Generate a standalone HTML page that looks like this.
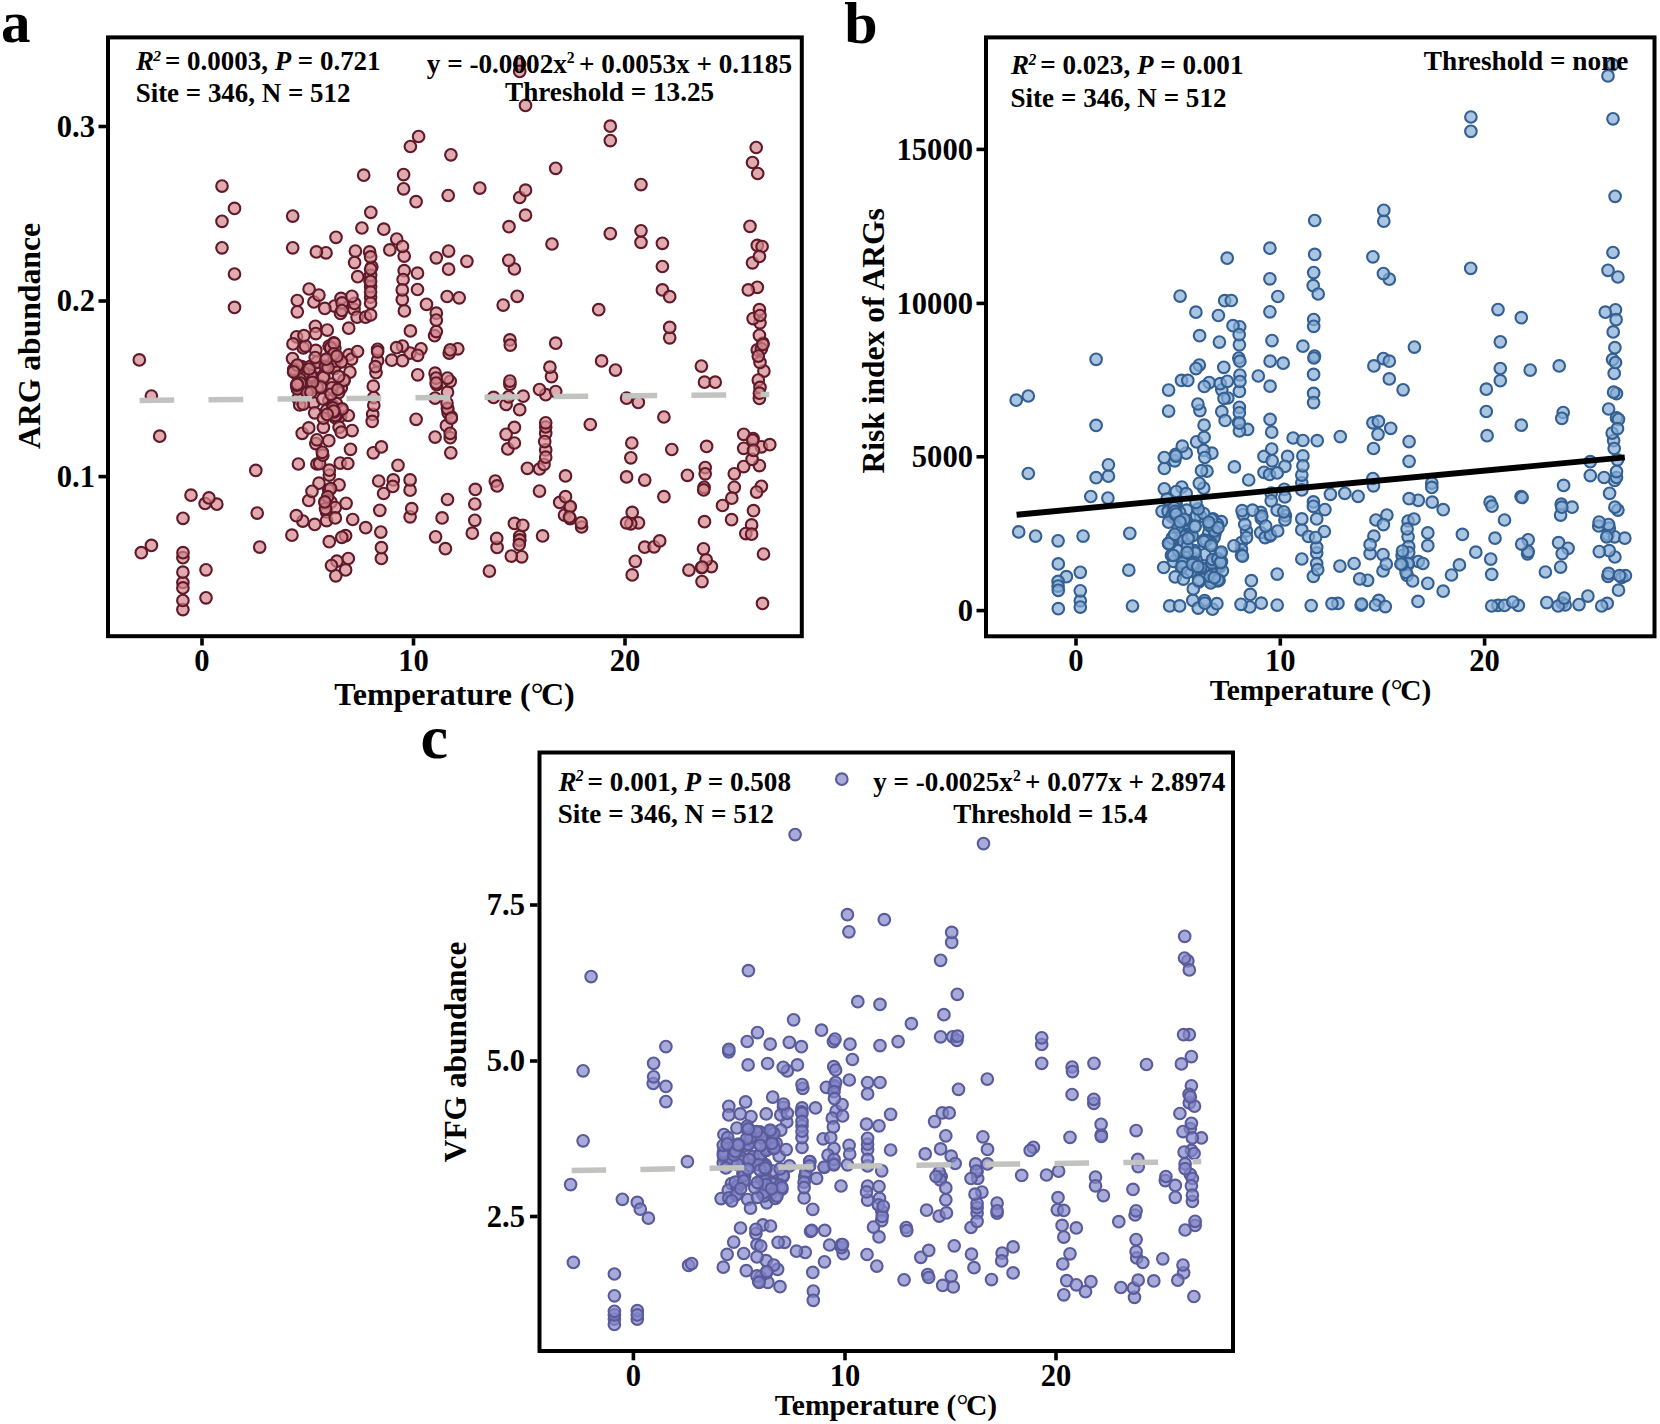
<!DOCTYPE html>
<html lang="en"><head><meta charset="utf-8"><title>Temperature relationships</title>
<style>html,body{margin:0;padding:0;background:#fff}svg{display:block}</style></head><body>
<svg width="1660" height="1424" viewBox="0 0 1660 1424" font-family="'Liberation Serif', 'DejaVu Serif', serif" font-weight="bold" fill="#000">
<rect width="1660" height="1424" fill="#fff"/>
<g fill="#d3868b" fill-opacity="0.7" stroke="#5f1928" stroke-width="2.1">
<circle cx="762.5" cy="603.4" r="5.8"/><circle cx="340.6" cy="416.2" r="5.8"/><circle cx="319.0" cy="483.2" r="5.8"/><circle cx="763.9" cy="371.1" r="5.8"/><circle cx="329.1" cy="346.1" r="5.8"/><circle cx="311.1" cy="374.2" r="5.8"/><circle cx="310.8" cy="376.2" r="5.8"/><circle cx="303.3" cy="347.9" r="5.8"/><circle cx="626.6" cy="398.2" r="5.8"/><circle cx="706.6" cy="446.4" r="5.8"/><circle cx="638.3" cy="402.4" r="5.8"/><circle cx="316.9" cy="464.0" r="5.8"/><circle cx="514.4" cy="523.4" r="5.8"/><circle cx="704.5" cy="382.2" r="5.8"/><circle cx="509.9" cy="339.9" r="5.8"/><circle cx="222.0" cy="221.3" r="5.8"/><circle cx="337.6" cy="358.4" r="5.8"/><circle cx="326.6" cy="366.1" r="5.8"/><circle cx="370.0" cy="280.6" r="5.8"/><circle cx="354.0" cy="309.3" r="5.8"/><circle cx="410.1" cy="516.8" r="5.8"/><circle cx="734.3" cy="487.3" r="5.8"/><circle cx="349.9" cy="372.1" r="5.8"/><circle cx="448.1" cy="412.8" r="5.8"/><circle cx="669.7" cy="337.8" r="5.8"/><circle cx="334.8" cy="348.3" r="5.8"/><circle cx="300.2" cy="380.0" r="5.8"/><circle cx="404.2" cy="270.7" r="5.8"/><circle cx="404.2" cy="256.1" r="5.8"/><circle cx="222.0" cy="186.1" r="5.8"/><circle cx="552.0" cy="244.0" r="5.8"/><circle cx="448.6" cy="251.1" r="5.8"/><circle cx="300.6" cy="380.0" r="5.8"/><circle cx="365.7" cy="527.7" r="5.8"/><circle cx="519.7" cy="536.3" r="5.8"/><circle cx="257.2" cy="513.1" r="5.8"/><circle cx="493.6" cy="397.4" r="5.8"/><circle cx="750.0" cy="226.3" r="5.8"/><circle cx="753.1" cy="438.5" r="5.8"/><circle cx="328.9" cy="400.5" r="5.8"/><circle cx="434.6" cy="335.7" r="5.8"/><circle cx="345.6" cy="535.7" r="5.8"/><circle cx="332.9" cy="405.5" r="5.8"/><circle cx="760.0" cy="322.8" r="5.8"/><circle cx="323.4" cy="427.3" r="5.8"/><circle cx="545.7" cy="394.7" r="5.8"/><circle cx="333.7" cy="342.8" r="5.8"/><circle cx="315.8" cy="350.4" r="5.8"/><circle cx="610.3" cy="140.6" r="5.8"/><circle cx="313.9" cy="302.0" r="5.8"/><circle cx="564.5" cy="515.1" r="5.8"/><circle cx="448.6" cy="269.2" r="5.8"/><circle cx="298.4" cy="464.0" r="5.8"/><circle cx="315.4" cy="326.3" r="5.8"/><circle cx="298.6" cy="380.7" r="5.8"/><circle cx="348.9" cy="354.8" r="5.8"/><circle cx="753.1" cy="318.6" r="5.8"/><circle cx="762.9" cy="343.2" r="5.8"/><circle cx="340.2" cy="463.1" r="5.8"/><circle cx="334.6" cy="306.1" r="5.8"/><circle cx="216.8" cy="504.2" r="5.8"/><circle cx="752.5" cy="162.5" r="5.8"/><circle cx="391.7" cy="360.2" r="5.8"/><circle cx="450.9" cy="154.8" r="5.8"/><circle cx="335.3" cy="417.7" r="5.8"/><circle cx="551.5" cy="376.6" r="5.8"/><circle cx="497.1" cy="547.4" r="5.8"/><circle cx="259.7" cy="547.1" r="5.8"/><circle cx="704.1" cy="487.3" r="5.8"/><circle cx="759.4" cy="398.4" r="5.8"/><circle cx="598.7" cy="309.7" r="5.8"/><circle cx="255.8" cy="470.4" r="5.8"/><circle cx="341.8" cy="410.6" r="5.8"/><circle cx="329.3" cy="475.1" r="5.8"/><circle cx="352.1" cy="430.6" r="5.8"/><circle cx="341.3" cy="387.8" r="5.8"/><circle cx="369.6" cy="251.9" r="5.8"/><circle cx="328.8" cy="440.7" r="5.8"/><circle cx="182.9" cy="557.7" r="5.8"/><circle cx="297.3" cy="300.5" r="5.8"/><circle cx="466.9" cy="261.3" r="5.8"/><circle cx="569.7" cy="507.0" r="5.8"/><circle cx="313.6" cy="403.0" r="5.8"/><circle cx="309.1" cy="289.0" r="5.8"/><circle cx="410.1" cy="353.1" r="5.8"/><circle cx="402.3" cy="299.7" r="5.8"/><circle cx="306.0" cy="384.6" r="5.8"/><circle cx="446.4" cy="425.7" r="5.8"/><circle cx="519.6" cy="540.6" r="5.8"/><circle cx="305.5" cy="385.4" r="5.8"/><circle cx="301.7" cy="366.7" r="5.8"/><circle cx="348.3" cy="415.5" r="5.8"/><circle cx="334.2" cy="367.8" r="5.8"/><circle cx="459.2" cy="297.8" r="5.8"/><circle cx="383.6" cy="493.5" r="5.8"/><circle cx="296.6" cy="336.8" r="5.8"/><circle cx="743.7" cy="466.6" r="5.8"/><circle cx="379.8" cy="510.3" r="5.8"/><circle cx="757.3" cy="245.4" r="5.8"/><circle cx="704.5" cy="521.7" r="5.8"/><circle cx="296.8" cy="385.2" r="5.8"/><circle cx="344.0" cy="380.6" r="5.8"/><circle cx="545.7" cy="433.3" r="5.8"/><circle cx="521.7" cy="556.8" r="5.8"/><circle cx="315.2" cy="367.8" r="5.8"/><circle cx="753.5" cy="510.7" r="5.8"/><circle cx="590.3" cy="424.5" r="5.8"/><circle cx="347.8" cy="463.5" r="5.8"/><circle cx="357.1" cy="317.2" r="5.8"/><circle cx="159.7" cy="436.2" r="5.8"/><circle cx="410.4" cy="330.9" r="5.8"/><circle cx="703.5" cy="548.8" r="5.8"/><circle cx="381.4" cy="558.5" r="5.8"/><circle cx="631.8" cy="443.0" r="5.8"/><circle cx="403.6" cy="188.8" r="5.8"/><circle cx="475.3" cy="489.4" r="5.8"/><circle cx="615.5" cy="370.1" r="5.8"/><circle cx="711.4" cy="566.6" r="5.8"/><circle cx="325.7" cy="360.3" r="5.8"/><circle cx="402.5" cy="346.1" r="5.8"/><circle cx="141.3" cy="552.7" r="5.8"/><circle cx="329.3" cy="541.7" r="5.8"/><circle cx="312.1" cy="387.9" r="5.8"/><circle cx="519.7" cy="197.5" r="5.8"/><circle cx="325.5" cy="503.3" r="5.8"/><circle cx="297.2" cy="386.7" r="5.8"/><circle cx="319.6" cy="463.7" r="5.8"/><circle cx="182.9" cy="582.5" r="5.8"/><circle cx="292.5" cy="358.6" r="5.8"/><circle cx="722.5" cy="505.5" r="5.8"/><circle cx="331.0" cy="502.2" r="5.8"/><circle cx="310.0" cy="366.6" r="5.8"/><circle cx="234.5" cy="274.0" r="5.8"/><circle cx="302.8" cy="521.1" r="5.8"/><circle cx="182.9" cy="609.6" r="5.8"/><circle cx="539.5" cy="469.0" r="5.8"/><circle cx="760.0" cy="362.4" r="5.8"/><circle cx="751.6" cy="524.9" r="5.8"/><circle cx="297.9" cy="398.7" r="5.8"/><circle cx="351.6" cy="359.1" r="5.8"/><circle cx="519.7" cy="539.9" r="5.8"/><circle cx="341.5" cy="361.7" r="5.8"/><circle cx="632.2" cy="512.4" r="5.8"/><circle cx="404.4" cy="310.9" r="5.8"/><circle cx="715.2" cy="382.2" r="5.8"/><circle cx="761.4" cy="446.8" r="5.8"/><circle cx="601.6" cy="360.9" r="5.8"/><circle cx="302.2" cy="433.3" r="5.8"/><circle cx="339.1" cy="484.8" r="5.8"/><circle cx="373.8" cy="397.6" r="5.8"/><circle cx="191.0" cy="495.2" r="5.8"/><circle cx="334.6" cy="411.7" r="5.8"/><circle cx="503.2" cy="305.1" r="5.8"/><circle cx="743.7" cy="448.3" r="5.8"/><circle cx="357.7" cy="276.7" r="5.8"/><circle cx="333.1" cy="407.3" r="5.8"/><circle cx="435.1" cy="373.2" r="5.8"/><circle cx="398.0" cy="465.3" r="5.8"/><circle cx="339.1" cy="427.3" r="5.8"/><circle cx="743.7" cy="434.3" r="5.8"/><circle cx="759.4" cy="465.6" r="5.8"/><circle cx="638.5" cy="522.8" r="5.8"/><circle cx="370.6" cy="297.2" r="5.8"/><circle cx="641.0" cy="184.6" r="5.8"/><circle cx="370.6" cy="286.7" r="5.8"/><circle cx="372.7" cy="414.4" r="5.8"/><circle cx="372.2" cy="421.4" r="5.8"/><circle cx="326.6" cy="511.9" r="5.8"/><circle cx="511.3" cy="556.1" r="5.8"/><circle cx="731.8" cy="498.2" r="5.8"/><circle cx="393.3" cy="479.9" r="5.8"/><circle cx="662.4" cy="243.3" r="5.8"/><circle cx="338.6" cy="392.7" r="5.8"/><circle cx="371.8" cy="266.9" r="5.8"/><circle cx="365.6" cy="317.2" r="5.8"/><circle cx="706.2" cy="559.9" r="5.8"/><circle cx="331.7" cy="384.0" r="5.8"/><circle cx="479.8" cy="188.1" r="5.8"/><circle cx="326.6" cy="410.6" r="5.8"/><circle cx="495.3" cy="481.1" r="5.8"/><circle cx="370.6" cy="256.9" r="5.8"/><circle cx="206.0" cy="569.8" r="5.8"/><circle cx="322.7" cy="399.0" r="5.8"/><circle cx="436.3" cy="313.2" r="5.8"/><circle cx="293.0" cy="343.9" r="5.8"/><circle cx="205.1" cy="503.5" r="5.8"/><circle cx="323.8" cy="376.3" r="5.8"/><circle cx="330.7" cy="348.8" r="5.8"/><circle cx="701.4" cy="366.1" r="5.8"/><circle cx="297.3" cy="311.8" r="5.8"/><circle cx="507.8" cy="448.9" r="5.8"/><circle cx="308.7" cy="500.5" r="5.8"/><circle cx="644.7" cy="480.1" r="5.8"/><circle cx="545.7" cy="449.9" r="5.8"/><circle cx="731.6" cy="519.7" r="5.8"/><circle cx="370.6" cy="275.3" r="5.8"/><circle cx="509.9" cy="384.3" r="5.8"/><circle cx="757.3" cy="349.9" r="5.8"/><circle cx="761.4" cy="348.8" r="5.8"/><circle cx="702.0" cy="581.6" r="5.8"/><circle cx="341.0" cy="298.4" r="5.8"/><circle cx="389.8" cy="249.9" r="5.8"/><circle cx="523.2" cy="396.2" r="5.8"/><circle cx="300.5" cy="386.3" r="5.8"/><circle cx="447.5" cy="499.5" r="5.8"/><circle cx="662.4" cy="289.9" r="5.8"/><circle cx="320.5" cy="385.8" r="5.8"/><circle cx="662.4" cy="266.5" r="5.8"/><circle cx="310.9" cy="375.4" r="5.8"/><circle cx="644.7" cy="547.2" r="5.8"/><circle cx="497.1" cy="485.9" r="5.8"/><circle cx="745.8" cy="533.6" r="5.8"/><circle cx="336.2" cy="403.4" r="5.8"/><circle cx="335.3" cy="507.6" r="5.8"/><circle cx="510.3" cy="345.1" r="5.8"/><circle cx="303.6" cy="372.8" r="5.8"/><circle cx="336.9" cy="561.2" r="5.8"/><circle cx="761.4" cy="486.3" r="5.8"/><circle cx="759.4" cy="309.7" r="5.8"/><circle cx="450.2" cy="437.7" r="5.8"/><circle cx="326.0" cy="252.8" r="5.8"/><circle cx="323.4" cy="377.5" r="5.8"/><circle cx="354.6" cy="262.6" r="5.8"/><circle cx="435.1" cy="398.1" r="5.8"/><circle cx="346.1" cy="503.3" r="5.8"/><circle cx="514.4" cy="427.4" r="5.8"/><circle cx="630.8" cy="457.8" r="5.8"/><circle cx="332.0" cy="387.8" r="5.8"/><circle cx="334.5" cy="368.4" r="5.8"/><circle cx="451.3" cy="416.9" r="5.8"/><circle cx="342.1" cy="408.9" r="5.8"/><circle cx="334.2" cy="354.8" r="5.8"/><circle cx="299.7" cy="405.0" r="5.8"/><circle cx="234.5" cy="208.4" r="5.8"/><circle cx="654.1" cy="546.8" r="5.8"/><circle cx="436.3" cy="257.8" r="5.8"/><circle cx="417.7" cy="374.8" r="5.8"/><circle cx="396.6" cy="347.7" r="5.8"/><circle cx="354.6" cy="303.4" r="5.8"/><circle cx="296.3" cy="373.7" r="5.8"/><circle cx="303.3" cy="404.1" r="5.8"/><circle cx="565.5" cy="475.9" r="5.8"/><circle cx="759.4" cy="335.3" r="5.8"/><circle cx="663.9" cy="417.0" r="5.8"/><circle cx="752.7" cy="440.3" r="5.8"/><circle cx="352.7" cy="519.5" r="5.8"/><circle cx="151.4" cy="396.0" r="5.8"/><circle cx="370.6" cy="303.0" r="5.8"/><circle cx="373.8" cy="405.2" r="5.8"/><circle cx="509.9" cy="381.1" r="5.8"/><circle cx="341.8" cy="537.3" r="5.8"/><circle cx="326.6" cy="520.6" r="5.8"/><circle cx="610.3" cy="126.2" r="5.8"/><circle cx="527.4" cy="468.3" r="5.8"/><circle cx="517.2" cy="296.3" r="5.8"/><circle cx="447.5" cy="408.4" r="5.8"/><circle cx="544.0" cy="464.5" r="5.8"/><circle cx="183.0" cy="518.3" r="5.8"/><circle cx="314.7" cy="412.8" r="5.8"/><circle cx="435.6" cy="536.8" r="5.8"/><circle cx="457.8" cy="348.8" r="5.8"/><circle cx="687.4" cy="475.3" r="5.8"/><circle cx="570.3" cy="506.5" r="5.8"/><circle cx="757.3" cy="287.3" r="5.8"/><circle cx="139.3" cy="359.9" r="5.8"/><circle cx="206.0" cy="597.8" r="5.8"/><circle cx="436.3" cy="331.6" r="5.8"/><circle cx="315.8" cy="443.6" r="5.8"/><circle cx="183.0" cy="552.7" r="5.8"/><circle cx="361.9" cy="228.0" r="5.8"/><circle cx="291.9" cy="535.2" r="5.8"/><circle cx="630.8" cy="523.8" r="5.8"/><circle cx="402.5" cy="360.7" r="5.8"/><circle cx="416.1" cy="201.7" r="5.8"/><circle cx="555.7" cy="168.3" r="5.8"/><circle cx="333.9" cy="361.4" r="5.8"/><circle cx="335.3" cy="517.9" r="5.8"/><circle cx="322.8" cy="455.2" r="5.8"/><circle cx="762.9" cy="344.4" r="5.8"/><circle cx="396.7" cy="239.0" r="5.8"/><circle cx="325.5" cy="508.7" r="5.8"/><circle cx="641.0" cy="242.3" r="5.8"/><circle cx="322.3" cy="452.3" r="5.8"/><circle cx="418.6" cy="136.5" r="5.8"/><circle cx="331.0" cy="394.3" r="5.8"/><circle cx="663.9" cy="496.7" r="5.8"/><circle cx="307.9" cy="390.0" r="5.8"/><circle cx="734.3" cy="473.8" r="5.8"/><circle cx="555.7" cy="391.6" r="5.8"/><circle cx="328.8" cy="490.2" r="5.8"/><circle cx="344.0" cy="380.2" r="5.8"/><circle cx="570.1" cy="518.6" r="5.8"/><circle cx="370.6" cy="314.9" r="5.8"/><circle cx="351.9" cy="296.3" r="5.8"/><circle cx="376.0" cy="372.7" r="5.8"/><circle cx="316.7" cy="362.3" r="5.8"/><circle cx="182.9" cy="600.5" r="5.8"/><circle cx="447.7" cy="408.8" r="5.8"/><circle cx="641.0" cy="230.8" r="5.8"/><circle cx="758.3" cy="380.1" r="5.8"/><circle cx="760.0" cy="315.5" r="5.8"/><circle cx="378.7" cy="481.0" r="5.8"/><circle cx="222.0" cy="247.8" r="5.8"/><circle cx="377.6" cy="349.3" r="5.8"/><circle cx="559.7" cy="502.4" r="5.8"/><circle cx="474.8" cy="520.3" r="5.8"/><circle cx="436.7" cy="384.7" r="5.8"/><circle cx="330.6" cy="488.6" r="5.8"/><circle cx="442.1" cy="517.9" r="5.8"/><circle cx="330.7" cy="347.7" r="5.8"/><circle cx="449.2" cy="353.1" r="5.8"/><circle cx="327.7" cy="496.7" r="5.8"/><circle cx="208.9" cy="497.9" r="5.8"/><circle cx="610.3" cy="233.6" r="5.8"/><circle cx="474.8" cy="504.0" r="5.8"/><circle cx="752.5" cy="262.8" r="5.8"/><circle cx="450.8" cy="452.8" r="5.8"/><circle cx="436.1" cy="378.1" r="5.8"/><circle cx="315.2" cy="357.5" r="5.8"/><circle cx="489.4" cy="571.1" r="5.8"/><circle cx="383.8" cy="229.2" r="5.8"/><circle cx="669.7" cy="296.7" r="5.8"/><circle cx="581.6" cy="527.0" r="5.8"/><circle cx="307.2" cy="388.2" r="5.8"/><circle cx="305.5" cy="346.1" r="5.8"/><circle cx="296.8" cy="370.7" r="5.8"/><circle cx="525.5" cy="105.4" r="5.8"/><circle cx="542.6" cy="535.9" r="5.8"/><circle cx="659.7" cy="540.9" r="5.8"/><circle cx="334.2" cy="343.4" r="5.8"/><circle cx="297.4" cy="388.9" r="5.8"/><circle cx="299.9" cy="379.1" r="5.8"/><circle cx="669.7" cy="327.4" r="5.8"/><circle cx="701.6" cy="567.6" r="5.8"/><circle cx="426.5" cy="304.3" r="5.8"/><circle cx="348.3" cy="558.5" r="5.8"/><circle cx="340.5" cy="313.5" r="5.8"/><circle cx="544.7" cy="441.6" r="5.8"/><circle cx="355.4" cy="251.1" r="5.8"/><circle cx="315.8" cy="333.6" r="5.8"/><circle cx="341.3" cy="361.8" r="5.8"/><circle cx="373.3" cy="386.2" r="5.8"/><circle cx="403.6" cy="174.6" r="5.8"/><circle cx="357.5" cy="351.5" r="5.8"/><circle cx="335.8" cy="575.8" r="5.8"/><circle cx="635.3" cy="561.3" r="5.8"/><circle cx="293.8" cy="370.4" r="5.8"/><circle cx="514.4" cy="443.0" r="5.8"/><circle cx="410.4" cy="146.5" r="5.8"/><circle cx="758.3" cy="356.1" r="5.8"/><circle cx="671.8" cy="449.5" r="5.8"/><circle cx="317.2" cy="387.4" r="5.8"/><circle cx="373.3" cy="452.8" r="5.8"/><circle cx="760.0" cy="387.4" r="5.8"/><circle cx="447.5" cy="392.2" r="5.8"/><circle cx="307.2" cy="392.8" r="5.8"/><circle cx="336.0" cy="237.3" r="5.8"/><circle cx="297.7" cy="365.6" r="5.8"/><circle cx="450.2" cy="381.3" r="5.8"/><circle cx="370.8" cy="212.3" r="5.8"/><circle cx="403.1" cy="279.5" r="5.8"/><circle cx="308.7" cy="427.9" r="5.8"/><circle cx="345.6" cy="569.9" r="5.8"/><circle cx="342.1" cy="302.9" r="5.8"/><circle cx="451.3" cy="418.2" r="5.8"/><circle cx="705.2" cy="467.6" r="5.8"/><circle cx="525.5" cy="190.2" r="5.8"/><circle cx="514.4" cy="269.0" r="5.8"/><circle cx="545.7" cy="427.0" r="5.8"/><circle cx="325.4" cy="366.4" r="5.8"/><circle cx="296.3" cy="515.7" r="5.8"/><circle cx="519.2" cy="544.7" r="5.8"/><circle cx="436.1" cy="383.0" r="5.8"/><circle cx="519.7" cy="64.1" r="5.8"/><circle cx="331.5" cy="565.5" r="5.8"/><circle cx="296.6" cy="385.1" r="5.8"/><circle cx="309.2" cy="369.0" r="5.8"/><circle cx="447.5" cy="378.1" r="5.8"/><circle cx="370.6" cy="269.0" r="5.8"/><circle cx="565.5" cy="496.7" r="5.8"/><circle cx="402.5" cy="246.5" r="5.8"/><circle cx="350.5" cy="449.3" r="5.8"/><circle cx="300.3" cy="383.1" r="5.8"/><circle cx="348.7" cy="328.2" r="5.8"/><circle cx="327.3" cy="330.1" r="5.8"/><circle cx="421.0" cy="348.8" r="5.8"/><circle cx="416.1" cy="419.3" r="5.8"/><circle cx="324.8" cy="501.9" r="5.8"/><circle cx="450.2" cy="349.9" r="5.8"/><circle cx="410.1" cy="490.2" r="5.8"/><circle cx="417.7" cy="355.3" r="5.8"/><circle cx="377.6" cy="360.7" r="5.8"/><circle cx="496.7" cy="538.4" r="5.8"/><circle cx="380.8" cy="532.1" r="5.8"/><circle cx="545.7" cy="457.2" r="5.8"/><circle cx="377.6" cy="351.8" r="5.8"/><circle cx="297.3" cy="384.0" r="5.8"/><circle cx="752.1" cy="459.3" r="5.8"/><circle cx="411.7" cy="508.7" r="5.8"/><circle cx="341.3" cy="432.2" r="5.8"/><circle cx="338.6" cy="376.4" r="5.8"/><circle cx="293.7" cy="369.5" r="5.8"/><circle cx="381.4" cy="547.7" r="5.8"/><circle cx="320.6" cy="387.1" r="5.8"/><circle cx="435.1" cy="437.1" r="5.8"/><circle cx="472.3" cy="533.2" r="5.8"/><circle cx="151.4" cy="545.4" r="5.8"/><circle cx="332.8" cy="407.9" r="5.8"/><circle cx="375.4" cy="366.7" r="5.8"/><circle cx="506.1" cy="404.5" r="5.8"/><circle cx="626.6" cy="476.9" r="5.8"/><circle cx="303.9" cy="335.7" r="5.8"/><circle cx="323.4" cy="418.2" r="5.8"/><circle cx="335.2" cy="415.5" r="5.8"/><circle cx="234.5" cy="307.4" r="5.8"/><circle cx="312.5" cy="382.4" r="5.8"/><circle cx="757.7" cy="173.5" r="5.8"/><circle cx="753.5" cy="450.3" r="5.8"/><circle cx="519.7" cy="409.7" r="5.8"/><circle cx="632.2" cy="574.9" r="5.8"/><circle cx="525.5" cy="215.2" r="5.8"/><circle cx="324.8" cy="308.4" r="5.8"/><circle cx="703.7" cy="489.9" r="5.8"/><circle cx="297.3" cy="365.1" r="5.8"/><circle cx="363.7" cy="175.2" r="5.8"/><circle cx="756.2" cy="147.5" r="5.8"/><circle cx="447.1" cy="296.5" r="5.8"/><circle cx="539.5" cy="389.5" r="5.8"/><circle cx="447.0" cy="403.0" r="5.8"/><circle cx="569.4" cy="517.0" r="5.8"/><circle cx="762.1" cy="246.5" r="5.8"/><circle cx="751.6" cy="534.2" r="5.8"/><circle cx="508.8" cy="260.3" r="5.8"/><circle cx="417.5" cy="289.5" r="5.8"/><circle cx="759.4" cy="256.5" r="5.8"/><circle cx="334.0" cy="411.8" r="5.8"/><circle cx="182.9" cy="587.9" r="5.8"/><circle cx="445.4" cy="548.7" r="5.8"/><circle cx="182.9" cy="572.2" r="5.8"/><circle cx="555.7" cy="343.2" r="5.8"/><circle cx="539.5" cy="491.1" r="5.8"/><circle cx="522.8" cy="525.3" r="5.8"/><circle cx="312.0" cy="491.3" r="5.8"/><circle cx="316.9" cy="439.8" r="5.8"/><circle cx="581.1" cy="522.8" r="5.8"/><circle cx="702.2" cy="567.2" r="5.8"/><circle cx="310.9" cy="392.2" r="5.8"/><circle cx="341.9" cy="310.5" r="5.8"/><circle cx="506.1" cy="434.3" r="5.8"/><circle cx="318.9" cy="295.1" r="5.8"/><circle cx="402.3" cy="289.9" r="5.8"/><circle cx="417.5" cy="273.2" r="5.8"/><circle cx="508.6" cy="396.8" r="5.8"/><circle cx="292.7" cy="216.1" r="5.8"/><circle cx="549.9" cy="367.2" r="5.8"/><circle cx="392.8" cy="486.4" r="5.8"/><circle cx="410.1" cy="479.9" r="5.8"/><circle cx="769.8" cy="444.7" r="5.8"/><circle cx="545.7" cy="422.8" r="5.8"/><circle cx="292.7" cy="247.8" r="5.8"/><circle cx="759.4" cy="393.2" r="5.8"/><circle cx="509.0" cy="226.7" r="5.8"/><circle cx="333.9" cy="353.8" r="5.8"/><circle cx="448.2" cy="195.5" r="5.8"/><circle cx="688.9" cy="570.1" r="5.8"/><circle cx="314.7" cy="524.4" r="5.8"/><circle cx="328.1" cy="367.7" r="5.8"/><circle cx="326.2" cy="359.2" r="5.8"/><circle cx="370.6" cy="281.5" r="5.8"/><circle cx="297.2" cy="384.5" r="5.8"/><circle cx="519.7" cy="71.4" r="5.8"/><circle cx="705.2" cy="473.8" r="5.8"/><circle cx="370.6" cy="292.0" r="5.8"/><circle cx="381.4" cy="446.9" r="5.8"/><circle cx="450.2" cy="433.3" r="5.8"/><circle cx="293.6" cy="371.9" r="5.8"/><circle cx="763.5" cy="554.0" r="5.8"/><circle cx="436.3" cy="320.1" r="5.8"/><circle cx="756.6" cy="492.1" r="5.8"/><circle cx="333.6" cy="411.1" r="5.8"/><circle cx="336.9" cy="356.2" r="5.8"/><circle cx="337.8" cy="389.5" r="5.8"/><circle cx="327.1" cy="414.4" r="5.8"/><circle cx="316.4" cy="251.9" r="5.8"/><circle cx="626.6" cy="522.8" r="5.8"/><circle cx="329.3" cy="470.2" r="5.8"/><circle cx="748.3" cy="289.9" r="5.8"/>
</g>
<g fill="#86acd6" fill-opacity="0.7" stroke="#345f91" stroke-width="2.1">
<circle cx="1218.4" cy="315.5" r="5.8"/><circle cx="1313.2" cy="285.7" r="5.8"/><circle cx="1608.0" cy="576.3" r="5.8"/><circle cx="1215.1" cy="533.1" r="5.8"/><circle cx="1162.1" cy="511.3" r="5.8"/><circle cx="1181.1" cy="566.6" r="5.8"/><circle cx="1107.9" cy="498.1" r="5.8"/><circle cx="1213.0" cy="518.9" r="5.8"/><circle cx="1615.5" cy="309.8" r="5.8"/><circle cx="1546.8" cy="602.6" r="5.8"/><circle cx="1324.3" cy="531.5" r="5.8"/><circle cx="1164.3" cy="468.5" r="5.8"/><circle cx="1316.7" cy="552.9" r="5.8"/><circle cx="1293.1" cy="438.0" r="5.8"/><circle cx="1563.2" cy="412.5" r="5.8"/><circle cx="1214.1" cy="537.6" r="5.8"/><circle cx="1431.8" cy="483.1" r="5.8"/><circle cx="1608.0" cy="75.9" r="5.8"/><circle cx="1459.4" cy="564.9" r="5.8"/><circle cx="1545.4" cy="572.0" r="5.8"/><circle cx="1205.9" cy="568.6" r="5.8"/><circle cx="1418.3" cy="561.5" r="5.8"/><circle cx="1066.4" cy="576.7" r="5.8"/><circle cx="1217.4" cy="567.5" r="5.8"/><circle cx="1301.8" cy="482.8" r="5.8"/><circle cx="1378.8" cy="600.4" r="5.8"/><circle cx="1285.4" cy="515.7" r="5.8"/><circle cx="1058.3" cy="608.7" r="5.8"/><circle cx="1373.9" cy="536.2" r="5.8"/><circle cx="1587.9" cy="596.1" r="5.8"/><circle cx="1260.7" cy="532.6" r="5.8"/><circle cx="1432.2" cy="502.2" r="5.8"/><circle cx="1301.8" cy="529.9" r="5.8"/><circle cx="1182.8" cy="563.3" r="5.8"/><circle cx="1409.1" cy="441.6" r="5.8"/><circle cx="1373.5" cy="448.5" r="5.8"/><circle cx="1243.2" cy="514.6" r="5.8"/><circle cx="1108.4" cy="476.2" r="5.8"/><circle cx="1168.6" cy="411.1" r="5.8"/><circle cx="1313.4" cy="576.3" r="5.8"/><circle cx="1180.9" cy="536.4" r="5.8"/><circle cx="1390.7" cy="428.3" r="5.8"/><circle cx="1284.3" cy="489.3" r="5.8"/><circle cx="1339.9" cy="566.1" r="5.8"/><circle cx="1221.8" cy="389.8" r="5.8"/><circle cx="1375.5" cy="605.0" r="5.8"/><circle cx="1189.5" cy="535.8" r="5.8"/><circle cx="1219.7" cy="566.8" r="5.8"/><circle cx="1316.7" cy="563.7" r="5.8"/><circle cx="1277.2" cy="510.2" r="5.8"/><circle cx="1337.9" cy="603.4" r="5.8"/><circle cx="1621.8" cy="577.4" r="5.8"/><circle cx="1212.5" cy="561.0" r="5.8"/><circle cx="1614.9" cy="557.0" r="5.8"/><circle cx="1487.1" cy="435.7" r="5.8"/><circle cx="1212.5" cy="609.2" r="5.8"/><circle cx="1174.7" cy="460.8" r="5.8"/><circle cx="1301.8" cy="475.1" r="5.8"/><circle cx="1260.7" cy="512.4" r="5.8"/><circle cx="1193.3" cy="560.9" r="5.8"/><circle cx="1367.6" cy="580.3" r="5.8"/><circle cx="1608.6" cy="573.4" r="5.8"/><circle cx="1221.3" cy="521.7" r="5.8"/><circle cx="1613.6" cy="440.6" r="5.8"/><circle cx="1504.5" cy="520.0" r="5.8"/><circle cx="1490.1" cy="502.2" r="5.8"/><circle cx="1208.7" cy="533.2" r="5.8"/><circle cx="1562.2" cy="603.0" r="5.8"/><circle cx="1409.1" cy="461.3" r="5.8"/><circle cx="1180.1" cy="296.1" r="5.8"/><circle cx="1277.2" cy="574.1" r="5.8"/><circle cx="1190.8" cy="563.4" r="5.8"/><circle cx="1035.6" cy="536.1" r="5.8"/><circle cx="1176.1" cy="503.4" r="5.8"/><circle cx="1521.1" cy="496.7" r="5.8"/><circle cx="1198.3" cy="569.3" r="5.8"/><circle cx="1313.4" cy="501.9" r="5.8"/><circle cx="1389.3" cy="279.2" r="5.8"/><circle cx="1178.5" cy="523.9" r="5.8"/><circle cx="1261.2" cy="518.3" r="5.8"/><circle cx="1181.6" cy="526.9" r="5.8"/><circle cx="1199.9" cy="410.6" r="5.8"/><circle cx="1196.6" cy="441.8" r="5.8"/><circle cx="1313.6" cy="374.4" r="5.8"/><circle cx="1608.0" cy="534.8" r="5.8"/><circle cx="1108.4" cy="464.8" r="5.8"/><circle cx="1565.2" cy="605.0" r="5.8"/><circle cx="1209.2" cy="382.6" r="5.8"/><circle cx="1172.2" cy="516.9" r="5.8"/><circle cx="1614.2" cy="373.4" r="5.8"/><circle cx="1383.4" cy="358.6" r="5.8"/><circle cx="1408.2" cy="564.1" r="5.8"/><circle cx="1219.9" cy="565.0" r="5.8"/><circle cx="1269.9" cy="311.8" r="5.8"/><circle cx="1207.0" cy="471.2" r="5.8"/><circle cx="1211.4" cy="543.6" r="5.8"/><circle cx="1427.8" cy="545.7" r="5.8"/><circle cx="1313.7" cy="319.5" r="5.8"/><circle cx="1212.7" cy="573.9" r="5.8"/><circle cx="1246.5" cy="531.0" r="5.8"/><circle cx="1418.3" cy="500.3" r="5.8"/><circle cx="1175.4" cy="510.4" r="5.8"/><circle cx="1129.8" cy="533.3" r="5.8"/><circle cx="1383.0" cy="571.0" r="5.8"/><circle cx="1211.9" cy="563.1" r="5.8"/><circle cx="1132.5" cy="606.0" r="5.8"/><circle cx="1332.0" cy="603.7" r="5.8"/><circle cx="1608.6" cy="409.0" r="5.8"/><circle cx="1572.1" cy="507.2" r="5.8"/><circle cx="1558.6" cy="542.7" r="5.8"/><circle cx="1200.6" cy="516.4" r="5.8"/><circle cx="1192.8" cy="600.4" r="5.8"/><circle cx="1375.9" cy="520.0" r="5.8"/><circle cx="1249.8" cy="607.0" r="5.8"/><circle cx="1359.7" cy="578.9" r="5.8"/><circle cx="1204.1" cy="425.2" r="5.8"/><circle cx="1175.8" cy="454.3" r="5.8"/><circle cx="1241.5" cy="542.5" r="5.8"/><circle cx="1184.5" cy="560.8" r="5.8"/><circle cx="1579.0" cy="604.6" r="5.8"/><circle cx="1264.0" cy="472.3" r="5.8"/><circle cx="1220.2" cy="383.7" r="5.8"/><circle cx="1277.2" cy="605.1" r="5.8"/><circle cx="1224.7" cy="300.7" r="5.8"/><circle cx="1199.6" cy="335.7" r="5.8"/><circle cx="1302.9" cy="440.5" r="5.8"/><circle cx="1354.1" cy="563.5" r="5.8"/><circle cx="1612.6" cy="359.6" r="5.8"/><circle cx="1498.0" cy="309.6" r="5.8"/><circle cx="1403.1" cy="389.8" r="5.8"/><circle cx="1197.6" cy="509.3" r="5.8"/><circle cx="1427.8" cy="583.3" r="5.8"/><circle cx="1344.8" cy="493.3" r="5.8"/><circle cx="1563.6" cy="485.4" r="5.8"/><circle cx="1217.5" cy="524.4" r="5.8"/><circle cx="1518.3" cy="605.4" r="5.8"/><circle cx="1211.6" cy="519.6" r="5.8"/><circle cx="1495.0" cy="538.2" r="5.8"/><circle cx="1598.7" cy="526.0" r="5.8"/><circle cx="1239.9" cy="375.0" r="5.8"/><circle cx="1308.4" cy="536.5" r="5.8"/><circle cx="1615.5" cy="362.5" r="5.8"/><circle cx="1618.5" cy="590.2" r="5.8"/><circle cx="1217.9" cy="581.0" r="5.8"/><circle cx="1313.7" cy="326.3" r="5.8"/><circle cx="1408.1" cy="536.8" r="5.8"/><circle cx="1407.1" cy="575.3" r="5.8"/><circle cx="1238.5" cy="422.5" r="5.8"/><circle cx="1244.8" cy="524.4" r="5.8"/><circle cx="1314.5" cy="356.1" r="5.8"/><circle cx="1016.2" cy="400.2" r="5.8"/><circle cx="1530.2" cy="370.1" r="5.8"/><circle cx="1239.4" cy="391.4" r="5.8"/><circle cx="1184.1" cy="519.8" r="5.8"/><circle cx="1302.9" cy="455.9" r="5.8"/><circle cx="1612.2" cy="433.1" r="5.8"/><circle cx="1614.6" cy="480.5" r="5.8"/><circle cx="1186.7" cy="510.2" r="5.8"/><circle cx="1264.0" cy="456.4" r="5.8"/><circle cx="1383.8" cy="221.2" r="5.8"/><circle cx="1340.3" cy="436.6" r="5.8"/><circle cx="1184.3" cy="521.0" r="5.8"/><circle cx="1218.1" cy="558.3" r="5.8"/><circle cx="1616.5" cy="477.5" r="5.8"/><circle cx="1284.9" cy="497.0" r="5.8"/><circle cx="1211.8" cy="580.6" r="5.8"/><circle cx="1185.6" cy="523.3" r="5.8"/><circle cx="1181.2" cy="535.4" r="5.8"/><circle cx="1258.3" cy="376.0" r="5.8"/><circle cx="1238.8" cy="358.0" r="5.8"/><circle cx="1203.7" cy="488.2" r="5.8"/><circle cx="1270.1" cy="535.9" r="5.8"/><circle cx="1163.7" cy="567.5" r="5.8"/><circle cx="1204.6" cy="600.5" r="5.8"/><circle cx="1204.8" cy="554.6" r="5.8"/><circle cx="1239.7" cy="326.8" r="5.8"/><circle cx="1265.1" cy="537.6" r="5.8"/><circle cx="1408.7" cy="546.7" r="5.8"/><circle cx="1271.2" cy="493.2" r="5.8"/><circle cx="1318.2" cy="294.0" r="5.8"/><circle cx="1617.9" cy="510.1" r="5.8"/><circle cx="1186.2" cy="553.5" r="5.8"/><circle cx="1313.9" cy="358.0" r="5.8"/><circle cx="1058.1" cy="581.4" r="5.8"/><circle cx="1521.3" cy="317.7" r="5.8"/><circle cx="1178.1" cy="527.1" r="5.8"/><circle cx="1528.2" cy="539.8" r="5.8"/><circle cx="1402.1" cy="555.6" r="5.8"/><circle cx="1090.8" cy="496.5" r="5.8"/><circle cx="1204.1" cy="540.2" r="5.8"/><circle cx="1590.3" cy="475.6" r="5.8"/><circle cx="1614.9" cy="507.2" r="5.8"/><circle cx="1199.3" cy="365.1" r="5.8"/><circle cx="1358.1" cy="496.3" r="5.8"/><circle cx="1609.6" cy="493.3" r="5.8"/><circle cx="1168.1" cy="511.3" r="5.8"/><circle cx="1261.8" cy="516.2" r="5.8"/><circle cx="1181.5" cy="380.4" r="5.8"/><circle cx="1220.2" cy="553.5" r="5.8"/><circle cx="1184.9" cy="562.1" r="5.8"/><circle cx="1386.9" cy="515.1" r="5.8"/><circle cx="1370.1" cy="553.6" r="5.8"/><circle cx="1247.6" cy="429.4" r="5.8"/><circle cx="1173.6" cy="561.5" r="5.8"/><circle cx="1233.0" cy="325.7" r="5.8"/><circle cx="1083.1" cy="536.1" r="5.8"/><circle cx="1383.4" cy="273.6" r="5.8"/><circle cx="1198.8" cy="581.8" r="5.8"/><circle cx="1560.6" cy="567.1" r="5.8"/><circle cx="1269.5" cy="474.5" r="5.8"/><circle cx="1216.9" cy="603.7" r="5.8"/><circle cx="1389.3" cy="361.2" r="5.8"/><circle cx="1408.7" cy="552.6" r="5.8"/><circle cx="1617.5" cy="459.8" r="5.8"/><circle cx="1186.2" cy="453.2" r="5.8"/><circle cx="1284.9" cy="520.0" r="5.8"/><circle cx="1169.7" cy="605.9" r="5.8"/><circle cx="1028.3" cy="473.5" r="5.8"/><circle cx="1058.3" cy="563.9" r="5.8"/><circle cx="1271.7" cy="432.2" r="5.8"/><circle cx="1196.0" cy="559.0" r="5.8"/><circle cx="1175.9" cy="512.1" r="5.8"/><circle cx="1193.3" cy="588.9" r="5.8"/><circle cx="1181.8" cy="487.1" r="5.8"/><circle cx="1239.4" cy="407.3" r="5.8"/><circle cx="1330.4" cy="494.3" r="5.8"/><circle cx="1612.6" cy="64.7" r="5.8"/><circle cx="1175.2" cy="504.7" r="5.8"/><circle cx="1614.9" cy="347.7" r="5.8"/><circle cx="1200.7" cy="567.5" r="5.8"/><circle cx="1313.6" cy="393.4" r="5.8"/><circle cx="1372.9" cy="256.8" r="5.8"/><circle cx="1219.4" cy="342.1" r="5.8"/><circle cx="1193.9" cy="566.4" r="5.8"/><circle cx="1427.8" cy="532.9" r="5.8"/><circle cx="1271.2" cy="500.8" r="5.8"/><circle cx="1171.4" cy="555.1" r="5.8"/><circle cx="1201.5" cy="470.7" r="5.8"/><circle cx="1239.4" cy="412.8" r="5.8"/><circle cx="1191.2" cy="571.4" r="5.8"/><circle cx="1178.5" cy="550.7" r="5.8"/><circle cx="1175.8" cy="456.1" r="5.8"/><circle cx="1431.8" cy="487.4" r="5.8"/><circle cx="1408.1" cy="521.0" r="5.8"/><circle cx="1080.3" cy="600.8" r="5.8"/><circle cx="1204.3" cy="386.5" r="5.8"/><circle cx="1500.3" cy="341.8" r="5.8"/><circle cx="1227.2" cy="258.2" r="5.8"/><circle cx="1314.7" cy="254.4" r="5.8"/><circle cx="1206.2" cy="540.5" r="5.8"/><circle cx="1179.6" cy="512.4" r="5.8"/><circle cx="1248.7" cy="480.0" r="5.8"/><circle cx="1221.8" cy="411.7" r="5.8"/><circle cx="1239.4" cy="344.8" r="5.8"/><circle cx="1625.4" cy="575.7" r="5.8"/><circle cx="1372.9" cy="422.8" r="5.8"/><circle cx="1492.0" cy="506.2" r="5.8"/><circle cx="1619.5" cy="575.7" r="5.8"/><circle cx="1604.1" cy="477.5" r="5.8"/><circle cx="1500.3" cy="380.7" r="5.8"/><circle cx="1609.2" cy="550.7" r="5.8"/><circle cx="1414.0" cy="519.0" r="5.8"/><circle cx="1373.5" cy="485.8" r="5.8"/><circle cx="1521.3" cy="425.2" r="5.8"/><circle cx="1172.2" cy="516.0" r="5.8"/><circle cx="1527.6" cy="553.8" r="5.8"/><circle cx="1475.8" cy="552.2" r="5.8"/><circle cx="1270.5" cy="535.0" r="5.8"/><circle cx="1568.1" cy="548.3" r="5.8"/><circle cx="1561.8" cy="418.3" r="5.8"/><circle cx="1196.6" cy="515.7" r="5.8"/><circle cx="1316.7" cy="547.4" r="5.8"/><circle cx="1211.3" cy="526.6" r="5.8"/><circle cx="1227.8" cy="398.0" r="5.8"/><circle cx="1558.2" cy="606.0" r="5.8"/><circle cx="1470.9" cy="117.0" r="5.8"/><circle cx="1164.3" cy="457.5" r="5.8"/><circle cx="1204.1" cy="437.4" r="5.8"/><circle cx="1198.2" cy="608.1" r="5.8"/><circle cx="1227.3" cy="381.3" r="5.8"/><circle cx="1197.9" cy="404.0" r="5.8"/><circle cx="1443.2" cy="509.7" r="5.8"/><circle cx="1172.1" cy="515.2" r="5.8"/><circle cx="1277.7" cy="531.0" r="5.8"/><circle cx="1182.6" cy="562.9" r="5.8"/><circle cx="1214.5" cy="531.0" r="5.8"/><circle cx="1408.1" cy="563.5" r="5.8"/><circle cx="1172.0" cy="516.1" r="5.8"/><circle cx="1246.5" cy="537.6" r="5.8"/><circle cx="1168.6" cy="522.2" r="5.8"/><circle cx="1176.3" cy="491.5" r="5.8"/><circle cx="1283.2" cy="363.2" r="5.8"/><circle cx="1614.6" cy="536.8" r="5.8"/><circle cx="1561.2" cy="504.2" r="5.8"/><circle cx="1498.0" cy="605.4" r="5.8"/><circle cx="1194.4" cy="550.5" r="5.8"/><circle cx="1231.3" cy="300.5" r="5.8"/><circle cx="1616.5" cy="417.9" r="5.8"/><circle cx="1239.4" cy="430.9" r="5.8"/><circle cx="1195.0" cy="552.9" r="5.8"/><circle cx="1080.3" cy="607.1" r="5.8"/><circle cx="1370.1" cy="544.7" r="5.8"/><circle cx="1616.1" cy="319.7" r="5.8"/><circle cx="1241.5" cy="549.6" r="5.8"/><circle cx="1096.1" cy="359.3" r="5.8"/><circle cx="1616.5" cy="393.6" r="5.8"/><circle cx="1613.2" cy="331.9" r="5.8"/><circle cx="1269.9" cy="278.8" r="5.8"/><circle cx="1211.9" cy="453.2" r="5.8"/><circle cx="1223.8" cy="367.3" r="5.8"/><circle cx="1313.4" cy="506.3" r="5.8"/><circle cx="1183.4" cy="540.9" r="5.8"/><circle cx="1402.5" cy="551.1" r="5.8"/><circle cx="1316.7" cy="518.9" r="5.8"/><circle cx="1470.9" cy="131.3" r="5.8"/><circle cx="1175.1" cy="514.5" r="5.8"/><circle cx="1192.2" cy="535.9" r="5.8"/><circle cx="1315.6" cy="537.6" r="5.8"/><circle cx="1616.5" cy="471.6" r="5.8"/><circle cx="1378.4" cy="421.4" r="5.8"/><circle cx="1187.4" cy="546.3" r="5.8"/><circle cx="1196.0" cy="368.6" r="5.8"/><circle cx="1220.6" cy="561.0" r="5.8"/><circle cx="1617.9" cy="277.0" r="5.8"/><circle cx="1242.1" cy="510.7" r="5.8"/><circle cx="1504.5" cy="605.4" r="5.8"/><circle cx="1096.1" cy="477.7" r="5.8"/><circle cx="1199.3" cy="483.3" r="5.8"/><circle cx="1212.5" cy="559.5" r="5.8"/><circle cx="1080.3" cy="590.8" r="5.8"/><circle cx="1187.2" cy="552.6" r="5.8"/><circle cx="1195.0" cy="526.1" r="5.8"/><circle cx="1451.5" cy="575.0" r="5.8"/><circle cx="1512.8" cy="602.0" r="5.8"/><circle cx="1193.8" cy="562.7" r="5.8"/><circle cx="1422.9" cy="563.5" r="5.8"/><circle cx="1383.0" cy="554.6" r="5.8"/><circle cx="1058.1" cy="586.1" r="5.8"/><circle cx="1287.6" cy="456.4" r="5.8"/><circle cx="1491.7" cy="574.4" r="5.8"/><circle cx="1618.5" cy="419.3" r="5.8"/><circle cx="1373.9" cy="365.9" r="5.8"/><circle cx="1187.8" cy="380.4" r="5.8"/><circle cx="1607.2" cy="603.4" r="5.8"/><circle cx="1251.4" cy="580.7" r="5.8"/><circle cx="1182.3" cy="446.2" r="5.8"/><circle cx="1301.8" cy="559.0" r="5.8"/><circle cx="1239.2" cy="334.7" r="5.8"/><circle cx="1203.7" cy="513.5" r="5.8"/><circle cx="1361.2" cy="605.2" r="5.8"/><circle cx="1239.9" cy="381.5" r="5.8"/><circle cx="1311.2" cy="605.6" r="5.8"/><circle cx="1215.1" cy="578.3" r="5.8"/><circle cx="1272.2" cy="460.8" r="5.8"/><circle cx="1195.0" cy="526.6" r="5.8"/><circle cx="1174.1" cy="507.5" r="5.8"/><circle cx="1209.0" cy="525.0" r="5.8"/><circle cx="1301.8" cy="518.9" r="5.8"/><circle cx="1265.7" cy="526.1" r="5.8"/><circle cx="1203.7" cy="450.4" r="5.8"/><circle cx="1241.5" cy="555.1" r="5.8"/><circle cx="1175.1" cy="511.4" r="5.8"/><circle cx="1609.3" cy="528.0" r="5.8"/><circle cx="1418.0" cy="601.4" r="5.8"/><circle cx="1203.7" cy="541.4" r="5.8"/><circle cx="1559.2" cy="365.9" r="5.8"/><circle cx="1486.3" cy="389.2" r="5.8"/><circle cx="1406.1" cy="572.4" r="5.8"/><circle cx="1195.9" cy="312.2" r="5.8"/><circle cx="1204.8" cy="457.5" r="5.8"/><circle cx="1302.9" cy="465.8" r="5.8"/><circle cx="1486.3" cy="411.5" r="5.8"/><circle cx="1613.0" cy="252.5" r="5.8"/><circle cx="1313.6" cy="402.6" r="5.8"/><circle cx="1224.0" cy="398.5" r="5.8"/><circle cx="1269.9" cy="248.2" r="5.8"/><circle cx="1271.7" cy="449.0" r="5.8"/><circle cx="1528.2" cy="551.6" r="5.8"/><circle cx="1564.2" cy="598.1" r="5.8"/><circle cx="1608.6" cy="524.6" r="5.8"/><circle cx="1188.1" cy="538.3" r="5.8"/><circle cx="1198.5" cy="580.5" r="5.8"/><circle cx="1601.7" cy="606.0" r="5.8"/><circle cx="1412.6" cy="580.9" r="5.8"/><circle cx="1521.7" cy="544.1" r="5.8"/><circle cx="1219.1" cy="580.2" r="5.8"/><circle cx="1164.3" cy="488.8" r="5.8"/><circle cx="1080.3" cy="572.3" r="5.8"/><circle cx="1443.2" cy="591.2" r="5.8"/><circle cx="1185.0" cy="520.2" r="5.8"/><circle cx="1560.6" cy="515.1" r="5.8"/><circle cx="1590.3" cy="461.7" r="5.8"/><circle cx="1218.0" cy="527.7" r="5.8"/><circle cx="1284.9" cy="466.3" r="5.8"/><circle cx="1234.4" cy="466.9" r="5.8"/><circle cx="1175.2" cy="576.9" r="5.8"/><circle cx="1225.1" cy="420.5" r="5.8"/><circle cx="1058.1" cy="540.8" r="5.8"/><circle cx="1608.0" cy="270.3" r="5.8"/><circle cx="1372.9" cy="478.5" r="5.8"/><circle cx="1500.3" cy="368.5" r="5.8"/><circle cx="1470.7" cy="268.3" r="5.8"/><circle cx="1168.6" cy="543.4" r="5.8"/><circle cx="1615.1" cy="196.3" r="5.8"/><circle cx="1562.2" cy="553.6" r="5.8"/><circle cx="1183.4" cy="579.1" r="5.8"/><circle cx="1613.6" cy="392.2" r="5.8"/><circle cx="1277.8" cy="296.5" r="5.8"/><circle cx="1385.3" cy="606.6" r="5.8"/><circle cx="1491.7" cy="606.0" r="5.8"/><circle cx="1277.2" cy="472.9" r="5.8"/><circle cx="1217.8" cy="559.0" r="5.8"/><circle cx="1314.7" cy="220.5" r="5.8"/><circle cx="1409.1" cy="498.7" r="5.8"/><circle cx="1170.1" cy="543.4" r="5.8"/><circle cx="1058.3" cy="590.3" r="5.8"/><circle cx="1270.1" cy="361.2" r="5.8"/><circle cx="1614.2" cy="448.5" r="5.8"/><circle cx="1179.6" cy="605.9" r="5.8"/><circle cx="1250.3" cy="594.4" r="5.8"/><circle cx="1383.8" cy="210.3" r="5.8"/><circle cx="1168.6" cy="390.1" r="5.8"/><circle cx="1186.2" cy="493.7" r="5.8"/><circle cx="1176.0" cy="514.0" r="5.8"/><circle cx="1613.0" cy="118.8" r="5.8"/><circle cx="1414.4" cy="347.1" r="5.8"/><circle cx="1096.1" cy="425.4" r="5.8"/><circle cx="1402.1" cy="564.5" r="5.8"/><circle cx="1239.9" cy="361.2" r="5.8"/><circle cx="1211.0" cy="545.7" r="5.8"/><circle cx="1462.4" cy="534.4" r="5.8"/><circle cx="1624.8" cy="538.2" r="5.8"/><circle cx="1283.8" cy="511.8" r="5.8"/><circle cx="1605.3" cy="312.2" r="5.8"/><circle cx="1361.6" cy="604.0" r="5.8"/><circle cx="1184.2" cy="519.3" r="5.8"/><circle cx="1208.7" cy="522.2" r="5.8"/><circle cx="1180.0" cy="521.8" r="5.8"/><circle cx="1302.9" cy="346.2" r="5.8"/><circle cx="1261.3" cy="603.2" r="5.8"/><circle cx="1378.0" cy="434.3" r="5.8"/><circle cx="1182.0" cy="566.7" r="5.8"/><circle cx="1317.7" cy="569.7" r="5.8"/><circle cx="1386.3" cy="564.1" r="5.8"/><circle cx="1222.4" cy="570.8" r="5.8"/><circle cx="1210.8" cy="582.9" r="5.8"/><circle cx="1210.1" cy="576.5" r="5.8"/><circle cx="1172.1" cy="538.2" r="5.8"/><circle cx="1167.0" cy="499.2" r="5.8"/><circle cx="1028.3" cy="396.0" r="5.8"/><circle cx="1204.8" cy="603.2" r="5.8"/><circle cx="1400.9" cy="564.0" r="5.8"/><circle cx="1221.5" cy="561.6" r="5.8"/><circle cx="1272.0" cy="340.6" r="5.8"/><circle cx="1239.4" cy="423.2" r="5.8"/><circle cx="1187.3" cy="572.5" r="5.8"/><circle cx="1192.4" cy="564.4" r="5.8"/><circle cx="1198.2" cy="509.0" r="5.8"/><circle cx="1317.2" cy="440.7" r="5.8"/><circle cx="1324.9" cy="509.6" r="5.8"/><circle cx="1599.1" cy="522.0" r="5.8"/><circle cx="1128.8" cy="570.2" r="5.8"/><circle cx="1561.8" cy="507.2" r="5.8"/><circle cx="1220.5" cy="562.6" r="5.8"/><circle cx="1173.4" cy="555.5" r="5.8"/><circle cx="1242.5" cy="556.1" r="5.8"/><circle cx="1018.7" cy="531.9" r="5.8"/><circle cx="1389.3" cy="378.9" r="5.8"/><circle cx="1407.1" cy="528.9" r="5.8"/><circle cx="1522.1" cy="497.5" r="5.8"/><circle cx="1252.5" cy="510.2" r="5.8"/><circle cx="1490.7" cy="559.1" r="5.8"/><circle cx="1313.7" cy="272.6" r="5.8"/><circle cx="1599.3" cy="551.6" r="5.8"/><circle cx="1218.0" cy="579.9" r="5.8"/><circle cx="1197.8" cy="566.6" r="5.8"/><circle cx="1270.1" cy="419.4" r="5.8"/><circle cx="1301.8" cy="489.9" r="5.8"/><circle cx="1196.0" cy="502.5" r="5.8"/><circle cx="1617.5" cy="428.7" r="5.8"/><circle cx="1174.7" cy="534.3" r="5.8"/><circle cx="1241.0" cy="604.3" r="5.8"/><circle cx="1168.6" cy="543.6" r="5.8"/><circle cx="1270.1" cy="386.2" r="5.8"/><circle cx="1606.7" cy="536.8" r="5.8"/><circle cx="1214.4" cy="577.7" r="5.8"/><circle cx="1233.9" cy="545.8" r="5.8"/><circle cx="1221.3" cy="552.1" r="5.8"/><circle cx="1383.4" cy="524.6" r="5.8"/>
</g>
<g fill="#8386c9" fill-opacity="0.7" stroke="#5a5b9a" stroke-width="2.1">
<circle cx="1165.3" cy="1180.6" r="5.8"/><circle cx="1046.5" cy="1175.0" r="5.8"/><circle cx="1101.3" cy="1134.8" r="5.8"/><circle cx="987.5" cy="1163.9" r="5.8"/><circle cx="1133.0" cy="1189.4" r="5.8"/><circle cx="770.2" cy="1044.2" r="5.8"/><circle cx="750.4" cy="1138.3" r="5.8"/><circle cx="1094.0" cy="1063.3" r="5.8"/><circle cx="735.3" cy="1195.2" r="5.8"/><circle cx="733.1" cy="1154.0" r="5.8"/><circle cx="724.8" cy="1153.2" r="5.8"/><circle cx="772.1" cy="1170.8" r="5.8"/><circle cx="940.6" cy="960.3" r="5.8"/><circle cx="1187.8" cy="960.9" r="5.8"/><circle cx="848.9" cy="931.8" r="5.8"/><circle cx="802.8" cy="1088.4" r="5.8"/><circle cx="583.1" cy="1140.8" r="5.8"/><circle cx="724.1" cy="1157.9" r="5.8"/><circle cx="736.9" cy="1128.0" r="5.8"/><circle cx="802.0" cy="1107.9" r="5.8"/><circle cx="1002.1" cy="1253.1" r="5.8"/><circle cx="1175.3" cy="1197.3" r="5.8"/><circle cx="731.5" cy="1183.6" r="5.8"/><circle cx="738.5" cy="1186.7" r="5.8"/><circle cx="770.5" cy="1194.1" r="5.8"/><circle cx="770.8" cy="1188.1" r="5.8"/><circle cx="954.2" cy="1245.8" r="5.8"/><circle cx="1070.0" cy="1253.8" r="5.8"/><circle cx="764.8" cy="1195.5" r="5.8"/><circle cx="867.6" cy="1149.6" r="5.8"/><circle cx="764.9" cy="1141.8" r="5.8"/><circle cx="765.2" cy="1164.6" r="5.8"/><circle cx="977.7" cy="1178.5" r="5.8"/><circle cx="1189.3" cy="1102.9" r="5.8"/><circle cx="1175.3" cy="1185.4" r="5.8"/><circle cx="762.9" cy="1224.9" r="5.8"/><circle cx="925.2" cy="1153.9" r="5.8"/><circle cx="1093.8" cy="1103.5" r="5.8"/><circle cx="773.3" cy="1143.3" r="5.8"/><circle cx="721.1" cy="1198.6" r="5.8"/><circle cx="934.6" cy="1121.6" r="5.8"/><circle cx="1072.1" cy="1067.0" r="5.8"/><circle cx="728.3" cy="1147.4" r="5.8"/><circle cx="755.2" cy="1132.6" r="5.8"/><circle cx="867.0" cy="1254.5" r="5.8"/><circle cx="824.2" cy="1167.5" r="5.8"/><circle cx="741.9" cy="1159.8" r="5.8"/><circle cx="766.5" cy="1134.6" r="5.8"/><circle cx="765.9" cy="1178.1" r="5.8"/><circle cx="772.7" cy="1097.1" r="5.8"/><circle cx="951.7" cy="942.4" r="5.8"/><circle cx="1095.5" cy="1177.1" r="5.8"/><circle cx="754.8" cy="1163.7" r="5.8"/><circle cx="726.4" cy="1152.2" r="5.8"/><circle cx="760.3" cy="1155.7" r="5.8"/><circle cx="1013.1" cy="1246.9" r="5.8"/><circle cx="729.0" cy="1142.5" r="5.8"/><circle cx="927.7" cy="1274.6" r="5.8"/><circle cx="777.6" cy="1269.4" r="5.8"/><circle cx="906.2" cy="1227.5" r="5.8"/><circle cx="1041.7" cy="1044.5" r="5.8"/><circle cx="1201.4" cy="1137.9" r="5.8"/><circle cx="1190.3" cy="1128.5" r="5.8"/><circle cx="724.7" cy="1153.5" r="5.8"/><circle cx="723.3" cy="1162.7" r="5.8"/><circle cx="997.1" cy="1213.1" r="5.8"/><circle cx="890.6" cy="1150.0" r="5.8"/><circle cx="847.4" cy="914.7" r="5.8"/><circle cx="942.7" cy="1285.4" r="5.8"/><circle cx="836.1" cy="1111.1" r="5.8"/><circle cx="747.8" cy="1128.3" r="5.8"/><circle cx="904.1" cy="1279.8" r="5.8"/><circle cx="766.7" cy="1202.8" r="5.8"/><circle cx="786.8" cy="1122.0" r="5.8"/><circle cx="804.7" cy="1176.7" r="5.8"/><circle cx="890.6" cy="1114.3" r="5.8"/><circle cx="762.1" cy="1193.2" r="5.8"/><circle cx="737.5" cy="1151.7" r="5.8"/><circle cx="1189.3" cy="1034.7" r="5.8"/><circle cx="1190.3" cy="1174.4" r="5.8"/><circle cx="760.2" cy="1156.1" r="5.8"/><circle cx="767.8" cy="1282.4" r="5.8"/><circle cx="747.3" cy="1129.8" r="5.8"/><circle cx="941.2" cy="1176.5" r="5.8"/><circle cx="784.6" cy="1242.3" r="5.8"/><circle cx="940.6" cy="1036.8" r="5.8"/><circle cx="748.5" cy="1156.2" r="5.8"/><circle cx="736.8" cy="1147.1" r="5.8"/><circle cx="760.2" cy="1132.2" r="5.8"/><circle cx="653.2" cy="1083.5" r="5.8"/><circle cx="687.4" cy="1161.7" r="5.8"/><circle cx="834.0" cy="1148.6" r="5.8"/><circle cx="728.3" cy="1190.0" r="5.8"/><circle cx="823.1" cy="1138.8" r="5.8"/><circle cx="920.8" cy="1257.3" r="5.8"/><circle cx="977.1" cy="1171.2" r="5.8"/><circle cx="573.4" cy="1262.4" r="5.8"/><circle cx="832.3" cy="1118.2" r="5.8"/><circle cx="728.8" cy="1051.8" r="5.8"/><circle cx="753.0" cy="1156.6" r="5.8"/><circle cx="805.2" cy="1252.4" r="5.8"/><circle cx="775.4" cy="1183.3" r="5.8"/><circle cx="783.5" cy="1107.3" r="5.8"/><circle cx="614.4" cy="1295.8" r="5.8"/><circle cx="637.3" cy="1202.4" r="5.8"/><circle cx="805.8" cy="1172.4" r="5.8"/><circle cx="849.1" cy="1145.3" r="5.8"/><circle cx="787.3" cy="1070.9" r="5.8"/><circle cx="766.6" cy="1135.7" r="5.8"/><circle cx="765.8" cy="1166.2" r="5.8"/><circle cx="945.8" cy="1199.8" r="5.8"/><circle cx="1057.3" cy="1209.8" r="5.8"/><circle cx="1165.9" cy="1176.5" r="5.8"/><circle cx="733.7" cy="1242.1" r="5.8"/><circle cx="867.6" cy="1165.9" r="5.8"/><circle cx="1066.7" cy="1280.7" r="5.8"/><circle cx="1191.4" cy="1150.4" r="5.8"/><circle cx="802.0" cy="1147.5" r="5.8"/><circle cx="939.2" cy="1172.3" r="5.8"/><circle cx="783.0" cy="1176.7" r="5.8"/><circle cx="1184.7" cy="936.3" r="5.8"/><circle cx="940.1" cy="1179.8" r="5.8"/><circle cx="974.0" cy="1267.7" r="5.8"/><circle cx="997.1" cy="1203.1" r="5.8"/><circle cx="906.8" cy="1230.6" r="5.8"/><circle cx="953.3" cy="1286.9" r="5.8"/><circle cx="749.9" cy="1165.3" r="5.8"/><circle cx="742.3" cy="1158.3" r="5.8"/><circle cx="757.0" cy="1244.5" r="5.8"/><circle cx="734.8" cy="1153.9" r="5.8"/><circle cx="742.9" cy="1161.3" r="5.8"/><circle cx="983.5" cy="843.6" r="5.8"/><circle cx="824.7" cy="1230.4" r="5.8"/><circle cx="842.6" cy="1116.0" r="5.8"/><circle cx="614.4" cy="1319.1" r="5.8"/><circle cx="843.2" cy="1253.7" r="5.8"/><circle cx="1093.8" cy="1099.3" r="5.8"/><circle cx="942.3" cy="1112.9" r="5.8"/><circle cx="723.9" cy="1134.5" r="5.8"/><circle cx="1072.5" cy="1071.6" r="5.8"/><circle cx="793.6" cy="1019.8" r="5.8"/><circle cx="764.2" cy="1196.0" r="5.8"/><circle cx="834.5" cy="1085.7" r="5.8"/><circle cx="802.0" cy="1125.8" r="5.8"/><circle cx="982.9" cy="1136.8" r="5.8"/><circle cx="952.7" cy="1036.8" r="5.8"/><circle cx="751.0" cy="1116.6" r="5.8"/><circle cx="810.6" cy="1231.4" r="5.8"/><circle cx="770.5" cy="1143.1" r="5.8"/><circle cx="987.3" cy="1079.1" r="5.8"/><circle cx="828.0" cy="1155.1" r="5.8"/><circle cx="637.3" cy="1319.1" r="5.8"/><circle cx="665.9" cy="1086.4" r="5.8"/><circle cx="1194.5" cy="1106.2" r="5.8"/><circle cx="1195.1" cy="1225.4" r="5.8"/><circle cx="829.6" cy="1245.0" r="5.8"/><circle cx="824.5" cy="1261.8" r="5.8"/><circle cx="1062.1" cy="1225.4" r="5.8"/><circle cx="614.4" cy="1324.5" r="5.8"/><circle cx="757.5" cy="1032.6" r="5.8"/><circle cx="857.8" cy="1001.7" r="5.8"/><circle cx="728.8" cy="1106.3" r="5.8"/><circle cx="834.1" cy="1163.6" r="5.8"/><circle cx="1136.1" cy="1130.6" r="5.8"/><circle cx="640.3" cy="1209.2" r="5.8"/><circle cx="765.9" cy="1168.8" r="5.8"/><circle cx="928.7" cy="1250.4" r="5.8"/><circle cx="723.5" cy="1153.6" r="5.8"/><circle cx="1021.7" cy="1175.4" r="5.8"/><circle cx="951.2" cy="1276.1" r="5.8"/><circle cx="744.0" cy="1180.0" r="5.8"/><circle cx="1153.8" cy="1280.9" r="5.8"/><circle cx="738.3" cy="1147.5" r="5.8"/><circle cx="834.6" cy="1086.9" r="5.8"/><circle cx="767.0" cy="1148.1" r="5.8"/><circle cx="747.7" cy="1199.5" r="5.8"/><circle cx="760.8" cy="1246.1" r="5.8"/><circle cx="570.6" cy="1184.6" r="5.8"/><circle cx="847.5" cy="1164.8" r="5.8"/><circle cx="732.0" cy="1161.6" r="5.8"/><circle cx="1162.8" cy="1258.8" r="5.8"/><circle cx="637.3" cy="1310.7" r="5.8"/><circle cx="826.4" cy="1087.3" r="5.8"/><circle cx="812.8" cy="1272.4" r="5.8"/><circle cx="665.9" cy="1101.6" r="5.8"/><circle cx="1184.5" cy="958.0" r="5.8"/><circle cx="789.3" cy="1042.3" r="5.8"/><circle cx="809.9" cy="1161.6" r="5.8"/><circle cx="867.6" cy="1186.0" r="5.8"/><circle cx="780.0" cy="1286.7" r="5.8"/><circle cx="727.5" cy="1144.3" r="5.8"/><circle cx="801.4" cy="1111.8" r="5.8"/><circle cx="801.4" cy="1046.7" r="5.8"/><circle cx="762.9" cy="1178.5" r="5.8"/><circle cx="880.0" cy="1082.5" r="5.8"/><circle cx="833.4" cy="1041.6" r="5.8"/><circle cx="760.0" cy="1154.7" r="5.8"/><circle cx="767.4" cy="1148.3" r="5.8"/><circle cx="1058.0" cy="1197.7" r="5.8"/><circle cx="766.3" cy="1150.3" r="5.8"/><circle cx="945.8" cy="1187.9" r="5.8"/><circle cx="1192.4" cy="1178.5" r="5.8"/><circle cx="732.2" cy="1161.7" r="5.8"/><circle cx="1137.8" cy="1159.4" r="5.8"/><circle cx="802.0" cy="1113.3" r="5.8"/><circle cx="727.1" cy="1254.4" r="5.8"/><circle cx="867.6" cy="1159.4" r="5.8"/><circle cx="723.5" cy="1151.9" r="5.8"/><circle cx="1013.1" cy="1272.9" r="5.8"/><circle cx="850.0" cy="1044.2" r="5.8"/><circle cx="776.2" cy="1143.2" r="5.8"/><circle cx="653.6" cy="1076.8" r="5.8"/><circle cx="723.3" cy="1155.1" r="5.8"/><circle cx="1185.1" cy="1163.9" r="5.8"/><circle cx="736.8" cy="1186.3" r="5.8"/><circle cx="761.2" cy="1179.5" r="5.8"/><circle cx="816.6" cy="1178.4" r="5.8"/><circle cx="622.4" cy="1199.3" r="5.8"/><circle cx="1192.4" cy="1137.9" r="5.8"/><circle cx="746.7" cy="1144.2" r="5.8"/><circle cx="834.0" cy="1159.4" r="5.8"/><circle cx="766.2" cy="1260.7" r="5.8"/><circle cx="737.3" cy="1164.3" r="5.8"/><circle cx="936.0" cy="1176.5" r="5.8"/><circle cx="1090.9" cy="1281.7" r="5.8"/><circle cx="648.4" cy="1218.2" r="5.8"/><circle cx="783.2" cy="1175.4" r="5.8"/><circle cx="884.3" cy="919.7" r="5.8"/><circle cx="926.6" cy="1210.2" r="5.8"/><circle cx="867.6" cy="1082.5" r="5.8"/><circle cx="991.5" cy="1279.6" r="5.8"/><circle cx="1193.9" cy="1296.5" r="5.8"/><circle cx="879.0" cy="1236.9" r="5.8"/><circle cx="977.1" cy="1212.9" r="5.8"/><circle cx="881.7" cy="1210.8" r="5.8"/><circle cx="804.1" cy="1182.2" r="5.8"/><circle cx="1033.4" cy="1147.3" r="5.8"/><circle cx="749.2" cy="1140.1" r="5.8"/><circle cx="841.0" cy="1186.0" r="5.8"/><circle cx="835.0" cy="1039.1" r="5.8"/><circle cx="758.4" cy="1164.7" r="5.8"/><circle cx="748.1" cy="1064.9" r="5.8"/><circle cx="1181.4" cy="1063.9" r="5.8"/><circle cx="928.7" cy="1277.5" r="5.8"/><circle cx="753.9" cy="1132.0" r="5.8"/><circle cx="583.1" cy="1070.8" r="5.8"/><circle cx="1001.7" cy="1260.9" r="5.8"/><circle cx="880.0" cy="1004.4" r="5.8"/><circle cx="748.5" cy="1144.4" r="5.8"/><circle cx="688.6" cy="1265.4" r="5.8"/><circle cx="1191.4" cy="1185.8" r="5.8"/><circle cx="841.5" cy="1247.7" r="5.8"/><circle cx="767.6" cy="1063.5" r="5.8"/><circle cx="780.8" cy="1114.9" r="5.8"/><circle cx="977.1" cy="1207.7" r="5.8"/><circle cx="802.0" cy="1121.4" r="5.8"/><circle cx="733.8" cy="1155.1" r="5.8"/><circle cx="1191.4" cy="1085.8" r="5.8"/><circle cx="750.5" cy="1208.2" r="5.8"/><circle cx="879.0" cy="1186.5" r="5.8"/><circle cx="811.7" cy="1230.4" r="5.8"/><circle cx="1192.4" cy="1201.5" r="5.8"/><circle cx="738.5" cy="1144.2" r="5.8"/><circle cx="748.4" cy="970.7" r="5.8"/><circle cx="728.8" cy="1114.9" r="5.8"/><circle cx="949.2" cy="1112.9" r="5.8"/><circle cx="763.8" cy="1192.7" r="5.8"/><circle cx="1136.7" cy="1257.9" r="5.8"/><circle cx="951.2" cy="1156.2" r="5.8"/><circle cx="1195.1" cy="1221.3" r="5.8"/><circle cx="780.8" cy="1130.1" r="5.8"/><circle cx="809.6" cy="1161.6" r="5.8"/><circle cx="614.4" cy="1274.0" r="5.8"/><circle cx="740.2" cy="1113.9" r="5.8"/><circle cx="771.3" cy="1140.6" r="5.8"/><circle cx="842.1" cy="1104.6" r="5.8"/><circle cx="971.0" cy="1227.5" r="5.8"/><circle cx="881.7" cy="1220.6" r="5.8"/><circle cx="1184.1" cy="1152.1" r="5.8"/><circle cx="1134.5" cy="1297.3" r="5.8"/><circle cx="747.2" cy="1041.5" r="5.8"/><circle cx="753.8" cy="1135.2" r="5.8"/><circle cx="750.5" cy="1137.4" r="5.8"/><circle cx="841.8" cy="779.2" r="5.8"/><circle cx="981.9" cy="1192.1" r="5.8"/><circle cx="766.2" cy="1273.0" r="5.8"/><circle cx="757.5" cy="1197.3" r="5.8"/><circle cx="775.4" cy="1198.4" r="5.8"/><circle cx="997.1" cy="1210.8" r="5.8"/><circle cx="773.8" cy="1265.1" r="5.8"/><circle cx="958.5" cy="1089.3" r="5.8"/><circle cx="802.0" cy="1137.7" r="5.8"/><circle cx="725.9" cy="1168.0" r="5.8"/><circle cx="879.5" cy="1198.4" r="5.8"/><circle cx="815.5" cy="1107.9" r="5.8"/><circle cx="760.2" cy="1277.0" r="5.8"/><circle cx="833.4" cy="1126.9" r="5.8"/><circle cx="755.9" cy="1233.6" r="5.8"/><circle cx="939.2" cy="1216.1" r="5.8"/><circle cx="740.5" cy="1228.0" r="5.8"/><circle cx="728.8" cy="1049.4" r="5.8"/><circle cx="1076.3" cy="1284.8" r="5.8"/><circle cx="1041.7" cy="1063.3" r="5.8"/><circle cx="735.3" cy="1182.2" r="5.8"/><circle cx="797.4" cy="1064.9" r="5.8"/><circle cx="1072.1" cy="1094.5" r="5.8"/><circle cx="1058.6" cy="1171.2" r="5.8"/><circle cx="975.6" cy="1163.9" r="5.8"/><circle cx="1085.5" cy="1291.7" r="5.8"/><circle cx="771.7" cy="1131.3" r="5.8"/><circle cx="1118.8" cy="1221.7" r="5.8"/><circle cx="1062.8" cy="1264.0" r="5.8"/><circle cx="1063.8" cy="1237.1" r="5.8"/><circle cx="742.9" cy="1173.5" r="5.8"/><circle cx="841.5" cy="1244.5" r="5.8"/><circle cx="1070.0" cy="1137.3" r="5.8"/><circle cx="744.8" cy="1176.0" r="5.8"/><circle cx="835.6" cy="1082.5" r="5.8"/><circle cx="873.5" cy="1227.1" r="5.8"/><circle cx="773.5" cy="1148.7" r="5.8"/><circle cx="987.5" cy="1149.4" r="5.8"/><circle cx="614.4" cy="1314.9" r="5.8"/><circle cx="821.5" cy="1030.2" r="5.8"/><circle cx="754.8" cy="1187.6" r="5.8"/><circle cx="743.9" cy="1175.0" r="5.8"/><circle cx="867.6" cy="1144.2" r="5.8"/><circle cx="1101.3" cy="1136.4" r="5.8"/><circle cx="879.0" cy="1125.8" r="5.8"/><circle cx="834.0" cy="1091.7" r="5.8"/><circle cx="728.8" cy="1197.9" r="5.8"/><circle cx="957.3" cy="994.3" r="5.8"/><circle cx="1183.6" cy="1272.9" r="5.8"/><circle cx="765.6" cy="1181.1" r="5.8"/><circle cx="971.5" cy="1254.2" r="5.8"/><circle cx="772.4" cy="1183.9" r="5.8"/><circle cx="1103.4" cy="1195.6" r="5.8"/><circle cx="1063.8" cy="1210.4" r="5.8"/><circle cx="1136.1" cy="1239.6" r="5.8"/><circle cx="977.1" cy="1221.3" r="5.8"/><circle cx="749.1" cy="1159.6" r="5.8"/><circle cx="1185.1" cy="1168.7" r="5.8"/><circle cx="824.2" cy="1167.0" r="5.8"/><circle cx="882.2" cy="1216.3" r="5.8"/><circle cx="761.5" cy="1134.3" r="5.8"/><circle cx="943.9" cy="1014.7" r="5.8"/><circle cx="764.6" cy="1141.0" r="5.8"/><circle cx="745.6" cy="1101.9" r="5.8"/><circle cx="796.5" cy="1251.2" r="5.8"/><circle cx="743.7" cy="1253.5" r="5.8"/><circle cx="780.1" cy="1185.2" r="5.8"/><circle cx="760.0" cy="1132.3" r="5.8"/><circle cx="977.1" cy="1203.5" r="5.8"/><circle cx="1133.6" cy="1288.2" r="5.8"/><circle cx="834.0" cy="1164.8" r="5.8"/><circle cx="665.9" cy="1046.6" r="5.8"/><circle cx="1183.6" cy="1034.7" r="5.8"/><circle cx="867.6" cy="1200.1" r="5.8"/><circle cx="723.3" cy="1145.3" r="5.8"/><circle cx="1189.1" cy="1094.4" r="5.8"/><circle cx="878.4" cy="1204.9" r="5.8"/><circle cx="1120.9" cy="1287.5" r="5.8"/><circle cx="1177.8" cy="1280.2" r="5.8"/><circle cx="1179.9" cy="1113.5" r="5.8"/><circle cx="727.7" cy="1137.7" r="5.8"/><circle cx="804.1" cy="1197.9" r="5.8"/><circle cx="951.7" cy="932.4" r="5.8"/><circle cx="881.7" cy="1170.8" r="5.8"/><circle cx="761.1" cy="1145.2" r="5.8"/><circle cx="883.3" cy="1206.3" r="5.8"/><circle cx="1183.0" cy="1265.0" r="5.8"/><circle cx="1146.5" cy="1064.5" r="5.8"/><circle cx="1192.4" cy="1195.2" r="5.8"/><circle cx="747.2" cy="1126.0" r="5.8"/><circle cx="911.4" cy="1023.7" r="5.8"/><circle cx="1138.2" cy="1166.7" r="5.8"/><circle cx="1194.1" cy="1153.5" r="5.8"/><circle cx="866.5" cy="1124.2" r="5.8"/><circle cx="743.8" cy="1181.1" r="5.8"/><circle cx="945.8" cy="1135.8" r="5.8"/><circle cx="849.7" cy="1154.0" r="5.8"/><circle cx="1101.1" cy="1124.3" r="5.8"/><circle cx="746.8" cy="1138.7" r="5.8"/><circle cx="761.5" cy="1137.6" r="5.8"/><circle cx="976.4" cy="1171.1" r="5.8"/><circle cx="795.1" cy="834.6" r="5.8"/><circle cx="746.3" cy="1270.7" r="5.8"/><circle cx="956.9" cy="1040.3" r="5.8"/><circle cx="955.2" cy="1163.5" r="5.8"/><circle cx="971.0" cy="1178.5" r="5.8"/><circle cx="833.7" cy="1066.7" r="5.8"/><circle cx="813.3" cy="1291.1" r="5.8"/><circle cx="783.2" cy="1067.3" r="5.8"/><circle cx="1183.0" cy="1131.6" r="5.8"/><circle cx="1095.5" cy="1185.8" r="5.8"/><circle cx="834.5" cy="1098.7" r="5.8"/><circle cx="614.4" cy="1311.3" r="5.8"/><circle cx="1030.2" cy="1150.4" r="5.8"/><circle cx="787.3" cy="1113.3" r="5.8"/><circle cx="835.6" cy="1070.0" r="5.8"/><circle cx="736.8" cy="1194.4" r="5.8"/><circle cx="735.4" cy="1151.4" r="5.8"/><circle cx="783.5" cy="1104.1" r="5.8"/><circle cx="637.3" cy="1314.9" r="5.8"/><circle cx="802.0" cy="1131.2" r="5.8"/><circle cx="1190.3" cy="1096.8" r="5.8"/><circle cx="770.5" cy="1226.0" r="5.8"/><circle cx="766.2" cy="1184.7" r="5.8"/><circle cx="830.7" cy="1137.7" r="5.8"/><circle cx="773.8" cy="1133.4" r="5.8"/><circle cx="802.0" cy="1084.6" r="5.8"/><circle cx="591.1" cy="976.6" r="5.8"/><circle cx="779.2" cy="1156.1" r="5.8"/><circle cx="866.5" cy="1191.9" r="5.8"/><circle cx="842.5" cy="1244.6" r="5.8"/><circle cx="957.5" cy="1036.2" r="5.8"/><circle cx="780.1" cy="1168.8" r="5.8"/><circle cx="757.0" cy="1256.9" r="5.8"/><circle cx="849.3" cy="1080.0" r="5.8"/><circle cx="813.3" cy="1300.3" r="5.8"/><circle cx="1076.3" cy="1227.9" r="5.8"/><circle cx="1041.7" cy="1037.8" r="5.8"/><circle cx="1191.4" cy="1056.6" r="5.8"/><circle cx="774.4" cy="1148.1" r="5.8"/><circle cx="876.8" cy="1266.1" r="5.8"/><circle cx="1063.8" cy="1294.8" r="5.8"/><circle cx="1136.1" cy="1251.7" r="5.8"/><circle cx="975.0" cy="1194.2" r="5.8"/><circle cx="760.2" cy="1170.2" r="5.8"/><circle cx="898.1" cy="1041.6" r="5.8"/><circle cx="1135.1" cy="1215.0" r="5.8"/><circle cx="812.8" cy="1209.3" r="5.8"/><circle cx="739.0" cy="1145.0" r="5.8"/><circle cx="731.8" cy="1200.8" r="5.8"/><circle cx="804.1" cy="1187.6" r="5.8"/><circle cx="781.9" cy="1189.2" r="5.8"/><circle cx="1138.2" cy="1280.2" r="5.8"/><circle cx="760.2" cy="1145.5" r="5.8"/><circle cx="691.6" cy="1263.6" r="5.8"/><circle cx="765.0" cy="1168.1" r="5.8"/><circle cx="786.2" cy="1149.6" r="5.8"/><circle cx="757.4" cy="1182.6" r="5.8"/><circle cx="738.1" cy="1144.9" r="5.8"/><circle cx="1191.4" cy="1123.3" r="5.8"/><circle cx="1136.1" cy="1210.8" r="5.8"/><circle cx="758.6" cy="1281.0" r="5.8"/><circle cx="880.0" cy="1045.6" r="5.8"/><circle cx="747.9" cy="1169.0" r="5.8"/><circle cx="946.4" cy="1212.9" r="5.8"/><circle cx="757.0" cy="1275.9" r="5.8"/><circle cx="771.9" cy="1143.4" r="5.8"/><circle cx="756.4" cy="1131.7" r="5.8"/><circle cx="940.6" cy="1148.9" r="5.8"/><circle cx="766.2" cy="1113.9" r="5.8"/><circle cx="727.2" cy="1144.1" r="5.8"/><circle cx="1142.8" cy="1262.5" r="5.8"/><circle cx="789.5" cy="1165.9" r="5.8"/><circle cx="777.0" cy="1196.1" r="5.8"/><circle cx="781.8" cy="1187.4" r="5.8"/><circle cx="723.3" cy="1267.2" r="5.8"/><circle cx="770.2" cy="1130.2" r="5.8"/><circle cx="809.6" cy="1165.9" r="5.8"/><circle cx="755.9" cy="1229.3" r="5.8"/><circle cx="766.7" cy="1271.6" r="5.8"/><circle cx="1185.1" cy="1230.0" r="5.8"/><circle cx="867.6" cy="1138.3" r="5.8"/><circle cx="771.6" cy="1188.7" r="5.8"/><circle cx="867.6" cy="1093.9" r="5.8"/><circle cx="852.4" cy="1059.5" r="5.8"/><circle cx="778.1" cy="1242.3" r="5.8"/><circle cx="1189.3" cy="969.9" r="5.8"/><circle cx="759.1" cy="1282.4" r="5.8"/><circle cx="748.3" cy="1129.0" r="5.8"/><circle cx="740.7" cy="1188.7" r="5.8"/><circle cx="653.6" cy="1063.3" r="5.8"/>
</g>
<path d="M139.6 400.4 Q450 397.5 769.3 394.5" fill="none" stroke="#c2c2c0" stroke-width="5.5" stroke-dasharray="34.7 34.3"/>
<path d="M571.6 1170.5 Q880 1165.5 1201.3 1161.6" fill="none" stroke="#c2c2c0" stroke-width="5.5" stroke-dasharray="34.7 34.3"/>
<line x1="1016.6" y1="514.7" x2="1624.8" y2="457.4" stroke="#000" stroke-width="5.9"/>
<text x="136" y="70" font-size="26.95" text-anchor="start" ><tspan font-style="italic">R</tspan><tspan font-style="italic" font-size="58%" dy="-0.6em" dx="-0.7">2</tspan><tspan dy="0.348em" dx="-2.8"> = 0.0003, </tspan><tspan font-style="italic">P</tspan> = 0.721</text>
<text x="135.7" y="102.3" font-size="26.95" text-anchor="start" >Site = 346, N = 512</text>
<text x="609.4" y="72.8" font-size="27.2" text-anchor="middle" >y = -0.0002x<tspan font-size="58%" dy="-0.6em">2</tspan><tspan dy="0.348em" dx="-2.5"> + 0.0053x + 0.1185</tspan></text>
<text x="609.6" y="101" font-size="27.2" text-anchor="middle" >Threshold = 13.25</text>
<text x="1011" y="74.3" font-size="27.1" text-anchor="start" ><tspan font-style="italic">R</tspan><tspan font-style="italic" font-size="58%" dy="-0.6em" dx="-0.7">2</tspan><tspan dy="0.348em" dx="-2.8"> = 0.023, </tspan><tspan font-style="italic">P</tspan> = 0.001</text>
<text x="1010.5" y="106.6" font-size="27.1" text-anchor="start" >Site = 346, N = 512</text>
<text x="1526.1" y="70.3" font-size="27.3" text-anchor="middle" >Threshold = none</text>
<text x="558.4" y="790.8" font-size="27.12" text-anchor="start" ><tspan font-style="italic">R</tspan><tspan font-style="italic" font-size="58%" dy="-0.6em" dx="-0.7">2</tspan><tspan dy="0.348em" dx="-2.8"> = 0.001, </tspan><tspan font-style="italic">P</tspan> = 0.508</text>
<text x="557.7" y="822.5" font-size="27.12" text-anchor="start" >Site = 346, N = 512</text>
<text x="1049.3" y="790.8" font-size="27.1" text-anchor="middle" >y = -0.0025x<tspan font-size="58%" dy="-0.6em">2</tspan><tspan dy="0.348em" dx="-2.5"> + 0.077x + 2.8974</tspan></text>
<text x="1050.3" y="822.5" font-size="27.0" text-anchor="middle" >Threshold = 15.4</text>
<rect x="108" y="37.4" width="693.8" height="598.8" fill="none" stroke="#000" stroke-width="4"/>
<line x1="202" y1="638.2" x2="202" y2="645.5" stroke="#000" stroke-width="3.6"/>
<text x="202" y="671.2" font-size="30.6" text-anchor="middle" >0</text>
<line x1="413.5" y1="638.2" x2="413.5" y2="645.5" stroke="#000" stroke-width="3.6"/>
<text x="413.5" y="671.2" font-size="30.6" text-anchor="middle" >10</text>
<line x1="625" y1="638.2" x2="625" y2="645.5" stroke="#000" stroke-width="3.6"/>
<text x="625" y="671.2" font-size="30.6" text-anchor="middle" >20</text>
<line x1="106" y1="126.5" x2="98.5" y2="126.5" stroke="#000" stroke-width="3.6"/>
<text x="95" y="136.8" font-size="30.6" text-anchor="end" >0.3</text>
<line x1="106" y1="301" x2="98.5" y2="301" stroke="#000" stroke-width="3.6"/>
<text x="95" y="311.3" font-size="30.6" text-anchor="end" >0.2</text>
<line x1="106" y1="476.6" x2="98.5" y2="476.6" stroke="#000" stroke-width="3.6"/>
<text x="95" y="486.90000000000003" font-size="30.6" text-anchor="end" >0.1</text>
<rect x="986" y="37.4" width="668.5" height="598.9" fill="none" stroke="#000" stroke-width="4"/>
<line x1="1076" y1="638.3" x2="1076" y2="645.5999999999999" stroke="#000" stroke-width="3.6"/>
<text x="1076" y="671.3" font-size="30.6" text-anchor="middle" >0</text>
<line x1="1280.3" y1="638.3" x2="1280.3" y2="645.5999999999999" stroke="#000" stroke-width="3.6"/>
<text x="1280.3" y="671.3" font-size="30.6" text-anchor="middle" >10</text>
<line x1="1484.6" y1="638.3" x2="1484.6" y2="645.5999999999999" stroke="#000" stroke-width="3.6"/>
<text x="1484.6" y="671.3" font-size="30.6" text-anchor="middle" >20</text>
<line x1="984" y1="149.4" x2="976.5" y2="149.4" stroke="#000" stroke-width="3.6"/>
<text x="973" y="159.70000000000002" font-size="30.6" text-anchor="end" >15000</text>
<line x1="984" y1="303.4" x2="976.5" y2="303.4" stroke="#000" stroke-width="3.6"/>
<text x="973" y="313.7" font-size="30.6" text-anchor="end" >10000</text>
<line x1="984" y1="456.8" x2="976.5" y2="456.8" stroke="#000" stroke-width="3.6"/>
<text x="973" y="467.1" font-size="30.6" text-anchor="end" >5000</text>
<line x1="984" y1="610.6" x2="976.5" y2="610.6" stroke="#000" stroke-width="3.6"/>
<text x="973" y="620.9" font-size="30.6" text-anchor="end" >0</text>
<rect x="539.5" y="752.5" width="693.5" height="598.5" fill="none" stroke="#000" stroke-width="4"/>
<line x1="633.4" y1="1353" x2="633.4" y2="1360.3" stroke="#000" stroke-width="3.6"/>
<text x="633.4" y="1386" font-size="30.6" text-anchor="middle" >0</text>
<line x1="845" y1="1353" x2="845" y2="1360.3" stroke="#000" stroke-width="3.6"/>
<text x="845" y="1386" font-size="30.6" text-anchor="middle" >10</text>
<line x1="1056" y1="1353" x2="1056" y2="1360.3" stroke="#000" stroke-width="3.6"/>
<text x="1056" y="1386" font-size="30.6" text-anchor="middle" >20</text>
<line x1="537.5" y1="905" x2="530.0" y2="905" stroke="#000" stroke-width="3.6"/>
<text x="525.0" y="915.3" font-size="30.6" text-anchor="end" >7.5</text>
<line x1="537.5" y1="1061" x2="530.0" y2="1061" stroke="#000" stroke-width="3.6"/>
<text x="525.0" y="1071.3" font-size="30.6" text-anchor="end" >5.0</text>
<line x1="537.5" y1="1216.5" x2="530.0" y2="1216.5" stroke="#000" stroke-width="3.6"/>
<text x="525.0" y="1226.8" font-size="30.6" text-anchor="end" >2.5</text>
<text x="454.5" y="705.3" font-size="32" text-anchor="middle" >Temperature (<tspan font-weight="normal">°</tspan><tspan dx="-0.08em">C)</tspan></text>
<text x="1320.5" y="699.6" font-size="29.5" text-anchor="middle" >Temperature (<tspan font-weight="normal">°</tspan><tspan dx="-0.08em">C)</tspan></text>
<text x="886" y="1414.7" font-size="29.6" text-anchor="middle" >Temperature (<tspan font-weight="normal">°</tspan><tspan dx="-0.08em">C)</tspan></text>
<text transform="translate(40.3 336) rotate(-90)" font-size="31.65" text-anchor="middle">ARG abundance</text>
<text transform="translate(883.6 340.8) rotate(-90)" font-size="31.5" text-anchor="middle">Risk index of ARGs</text>
<text transform="translate(466.3 1051.9) rotate(-90)" font-size="31.4" text-anchor="middle">VFG abundance</text>
<text x="1" y="42" font-size="59" text-anchor="start" >a</text>
<text x="844.2" y="43.4" font-size="60" text-anchor="start" >b</text>
<text x="420.6" y="757.8" font-size="62" text-anchor="start" >c</text>
</svg></body></html>
